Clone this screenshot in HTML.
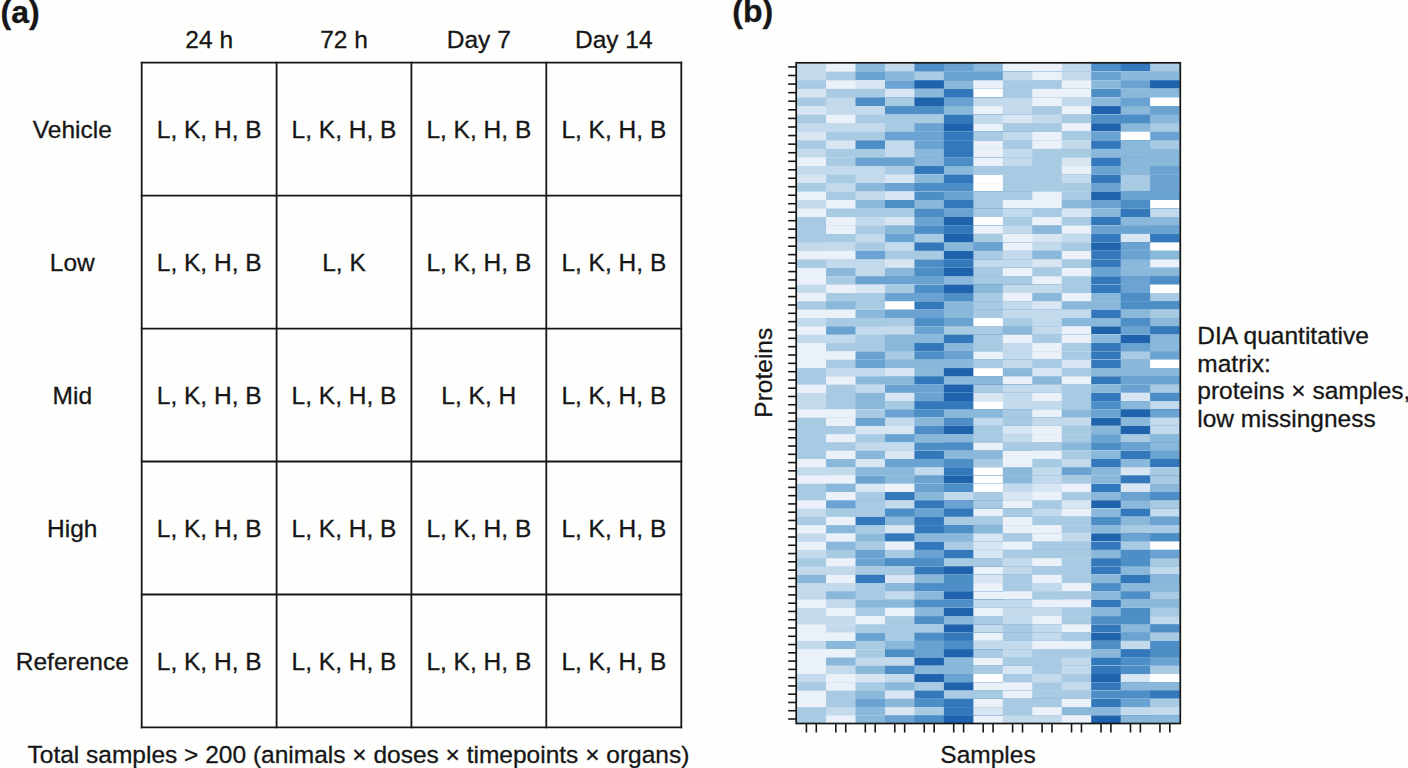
<!DOCTYPE html>
<html><head><meta charset="utf-8"><title>Figure</title>
<style>
html,body{margin:0;padding:0;background:#fefefd;}
body{width:1408px;height:768px;overflow:hidden;}
svg{display:block;}
text{font-family:"Liberation Sans",sans-serif;fill:#161616;stroke:#161616;stroke-width:0.3px;}
.t{font-size:24.5px;}
.b{font-size:32px;font-weight:bold;}
</style></head><body>
<svg width="1408" height="768" viewBox="0 0 1408 768">
<rect x="0" y="0" width="1408" height="768" fill="#fefefd"/>
<text class="b" x="0.5" y="22.8">(a)</text>
<g stroke="#161616" stroke-width="1.8" fill="none" stroke-linecap="square">
<line x1="141.7" y1="62.7" x2="141.7" y2="727.3"/>
<line x1="276.6" y1="62.7" x2="276.6" y2="727.3"/>
<line x1="411.4" y1="62.7" x2="411.4" y2="727.3"/>
<line x1="546.3" y1="62.7" x2="546.3" y2="727.3"/>
<line x1="681.3" y1="62.7" x2="681.3" y2="727.3"/>
<line x1="141.7" y1="62.7" x2="681.3" y2="62.7"/>
<line x1="141.7" y1="195.6" x2="681.3" y2="195.6"/>
<line x1="141.7" y1="328.6" x2="681.3" y2="328.6"/>
<line x1="141.7" y1="461.5" x2="681.3" y2="461.5"/>
<line x1="141.7" y1="594.5" x2="681.3" y2="594.5"/>
<line x1="141.7" y1="727.3" x2="681.3" y2="727.3"/>
</g>
<text class="t" text-anchor="middle" x="209.2" y="47.5">24 h</text>
<text class="t" text-anchor="middle" x="344.0" y="47.5">72 h</text>
<text class="t" text-anchor="middle" x="478.8" y="47.5">Day 7</text>
<text class="t" text-anchor="middle" x="613.8" y="47.5">Day 14</text>
<text class="t" text-anchor="middle" x="72.3" y="138.1">Vehicle</text>
<text class="t" text-anchor="middle" x="209.2" y="138.1">L, K, H, B</text>
<text class="t" text-anchor="middle" x="344.0" y="138.1">L, K, H, B</text>
<text class="t" text-anchor="middle" x="478.8" y="138.1">L, K, H, B</text>
<text class="t" text-anchor="middle" x="613.8" y="138.1">L, K, H, B</text>
<text class="t" text-anchor="middle" x="72.3" y="271.0">Low</text>
<text class="t" text-anchor="middle" x="209.2" y="271.0">L, K, H, B</text>
<text class="t" text-anchor="middle" x="344.0" y="271.0">L, K</text>
<text class="t" text-anchor="middle" x="478.8" y="271.0">L, K, H, B</text>
<text class="t" text-anchor="middle" x="613.8" y="271.0">L, K, H, B</text>
<text class="t" text-anchor="middle" x="72.3" y="403.9">Mid</text>
<text class="t" text-anchor="middle" x="209.2" y="403.9">L, K, H, B</text>
<text class="t" text-anchor="middle" x="344.0" y="403.9">L, K, H, B</text>
<text class="t" text-anchor="middle" x="478.8" y="403.9">L, K, H</text>
<text class="t" text-anchor="middle" x="613.8" y="403.9">L, K, H, B</text>
<text class="t" text-anchor="middle" x="72.3" y="536.9">High</text>
<text class="t" text-anchor="middle" x="209.2" y="536.9">L, K, H, B</text>
<text class="t" text-anchor="middle" x="344.0" y="536.9">L, K, H, B</text>
<text class="t" text-anchor="middle" x="478.8" y="536.9">L, K, H, B</text>
<text class="t" text-anchor="middle" x="613.8" y="536.9">L, K, H, B</text>
<text class="t" text-anchor="middle" x="72.3" y="669.8">Reference</text>
<text class="t" text-anchor="middle" x="209.2" y="669.8">L, K, H, B</text>
<text class="t" text-anchor="middle" x="344.0" y="669.8">L, K, H, B</text>
<text class="t" text-anchor="middle" x="478.8" y="669.8">L, K, H, B</text>
<text class="t" text-anchor="middle" x="613.8" y="669.8">L, K, H, B</text>
<text class="t" x="27.5" y="763">Total samples &gt; 200 (animals × doses × timepoints × organs)</text>
<text class="b" x="732.3" y="22.4">(b)</text>
<g>
<rect x="796.60" y="62.80" width="383.00" height="660.70" fill="#c3d9ec"/><rect x="826.06" y="62.80" width="353.54" height="660.70" fill="#ebf1f9"/><rect x="855.52" y="62.80" width="324.08" height="660.70" fill="#8ab8da"/><rect x="884.98" y="62.80" width="294.62" height="660.70" fill="#c3d9ec"/><rect x="914.45" y="62.80" width="265.15" height="660.70" fill="#4e8ec7"/><rect x="943.91" y="62.80" width="235.69" height="660.70" fill="#6aa2d1"/><rect x="973.37" y="62.80" width="206.23" height="660.70" fill="#8ab8da"/><rect x="1002.83" y="62.80" width="176.77" height="660.70" fill="#ebf1f9"/><rect x="1032.29" y="62.80" width="147.31" height="660.70" fill="#ebf1f9"/><rect x="1061.75" y="62.80" width="117.85" height="660.70" fill="#c3d9ec"/><rect x="1091.22" y="62.80" width="88.38" height="660.70" fill="#4e8ec7"/><rect x="1120.68" y="62.80" width="58.92" height="660.70" fill="#3378bb"/><rect x="1150.14" y="62.80" width="29.46" height="660.70" fill="#a8cae3"/>
<rect x="796.60" y="71.74" width="383.00" height="651.76" fill="#c3d9ec"/><rect x="826.06" y="71.74" width="353.54" height="651.76" fill="#a8cae3"/><rect x="855.52" y="71.74" width="324.08" height="651.76" fill="#6aa2d1"/><rect x="884.98" y="71.74" width="294.62" height="651.76" fill="#8ab8da"/><rect x="914.45" y="71.74" width="265.15" height="651.76" fill="#a8cae3"/><rect x="943.91" y="71.74" width="235.69" height="651.76" fill="#6aa2d1"/><rect x="973.37" y="71.74" width="206.23" height="651.76" fill="#6aa2d1"/><rect x="1002.83" y="71.74" width="176.77" height="651.76" fill="#c3d9ec"/><rect x="1032.29" y="71.74" width="147.31" height="651.76" fill="#ebf1f9"/><rect x="1061.75" y="71.74" width="117.85" height="651.76" fill="#c3d9ec"/><rect x="1091.22" y="71.74" width="88.38" height="651.76" fill="#6aa2d1"/><rect x="1120.68" y="71.74" width="58.92" height="651.76" fill="#8ab8da"/><rect x="1150.14" y="71.74" width="29.46" height="651.76" fill="#8ab8da"/>
<rect x="796.60" y="80.32" width="383.00" height="643.18" fill="#a8cae3"/><rect x="826.06" y="80.32" width="353.54" height="643.18" fill="#ebf1f9"/><rect x="855.52" y="80.32" width="324.08" height="643.18" fill="#d8e5f2"/><rect x="884.98" y="80.32" width="294.62" height="643.18" fill="#6aa2d1"/><rect x="914.45" y="80.32" width="265.15" height="643.18" fill="#2063ad"/><rect x="943.91" y="80.32" width="235.69" height="643.18" fill="#8ab8da"/><rect x="973.37" y="80.32" width="206.23" height="643.18" fill="#ebf1f9"/><rect x="1002.83" y="80.32" width="176.77" height="643.18" fill="#a8cae3"/><rect x="1032.29" y="80.32" width="147.31" height="643.18" fill="#a8cae3"/><rect x="1061.75" y="80.32" width="117.85" height="643.18" fill="#ebf1f9"/><rect x="1091.22" y="80.32" width="88.38" height="643.18" fill="#8ab8da"/><rect x="1120.68" y="80.32" width="58.92" height="643.18" fill="#6aa2d1"/><rect x="1150.14" y="80.32" width="29.46" height="643.18" fill="#2063ad"/>
<rect x="796.60" y="88.90" width="383.00" height="634.60" fill="#d8e5f2"/><rect x="826.06" y="88.90" width="353.54" height="634.60" fill="#a8cae3"/><rect x="855.52" y="88.90" width="324.08" height="634.60" fill="#a8cae3"/><rect x="884.98" y="88.90" width="294.62" height="634.60" fill="#d8e5f2"/><rect x="914.45" y="88.90" width="265.15" height="634.60" fill="#8ab8da"/><rect x="943.91" y="88.90" width="235.69" height="634.60" fill="#3378bb"/><rect x="973.37" y="88.90" width="206.23" height="634.60" fill="#ffffff"/><rect x="1002.83" y="88.90" width="176.77" height="634.60" fill="#a8cae3"/><rect x="1032.29" y="88.90" width="147.31" height="634.60" fill="#ebf1f9"/><rect x="1061.75" y="88.90" width="117.85" height="634.60" fill="#ebf1f9"/><rect x="1091.22" y="88.90" width="88.38" height="634.60" fill="#4e8ec7"/><rect x="1120.68" y="88.90" width="58.92" height="634.60" fill="#8ab8da"/><rect x="1150.14" y="88.90" width="29.46" height="634.60" fill="#8ab8da"/>
<rect x="796.60" y="97.49" width="383.00" height="626.01" fill="#a8cae3"/><rect x="826.06" y="97.49" width="353.54" height="626.01" fill="#c3d9ec"/><rect x="855.52" y="97.49" width="324.08" height="626.01" fill="#4e8ec7"/><rect x="884.98" y="97.49" width="294.62" height="626.01" fill="#a8cae3"/><rect x="914.45" y="97.49" width="265.15" height="626.01" fill="#2063ad"/><rect x="943.91" y="97.49" width="235.69" height="626.01" fill="#6aa2d1"/><rect x="973.37" y="97.49" width="206.23" height="626.01" fill="#c3d9ec"/><rect x="1002.83" y="97.49" width="176.77" height="626.01" fill="#c3d9ec"/><rect x="1032.29" y="97.49" width="147.31" height="626.01" fill="#ebf1f9"/><rect x="1061.75" y="97.49" width="117.85" height="626.01" fill="#c3d9ec"/><rect x="1091.22" y="97.49" width="88.38" height="626.01" fill="#8ab8da"/><rect x="1120.68" y="97.49" width="58.92" height="626.01" fill="#6aa2d1"/><rect x="1150.14" y="97.49" width="29.46" height="626.01" fill="#ffffff"/>
<rect x="796.60" y="106.07" width="383.00" height="617.43" fill="#d8e5f2"/><rect x="826.06" y="106.07" width="353.54" height="617.43" fill="#c3d9ec"/><rect x="855.52" y="106.07" width="324.08" height="617.43" fill="#c3d9ec"/><rect x="884.98" y="106.07" width="294.62" height="617.43" fill="#4e8ec7"/><rect x="914.45" y="106.07" width="265.15" height="617.43" fill="#4e8ec7"/><rect x="943.91" y="106.07" width="235.69" height="617.43" fill="#8ab8da"/><rect x="973.37" y="106.07" width="206.23" height="617.43" fill="#ebf1f9"/><rect x="1002.83" y="106.07" width="176.77" height="617.43" fill="#c3d9ec"/><rect x="1032.29" y="106.07" width="147.31" height="617.43" fill="#a8cae3"/><rect x="1061.75" y="106.07" width="117.85" height="617.43" fill="#ebf1f9"/><rect x="1091.22" y="106.07" width="88.38" height="617.43" fill="#2063ad"/><rect x="1120.68" y="106.07" width="58.92" height="617.43" fill="#8ab8da"/><rect x="1150.14" y="106.07" width="29.46" height="617.43" fill="#6aa2d1"/>
<rect x="796.60" y="114.65" width="383.00" height="608.85" fill="#a8cae3"/><rect x="826.06" y="114.65" width="353.54" height="608.85" fill="#ebf1f9"/><rect x="855.52" y="114.65" width="324.08" height="608.85" fill="#a8cae3"/><rect x="884.98" y="114.65" width="294.62" height="608.85" fill="#a8cae3"/><rect x="914.45" y="114.65" width="265.15" height="608.85" fill="#a8cae3"/><rect x="943.91" y="114.65" width="235.69" height="608.85" fill="#3378bb"/><rect x="973.37" y="114.65" width="206.23" height="608.85" fill="#c3d9ec"/><rect x="1002.83" y="114.65" width="176.77" height="608.85" fill="#d8e5f2"/><rect x="1032.29" y="114.65" width="147.31" height="608.85" fill="#c3d9ec"/><rect x="1061.75" y="114.65" width="117.85" height="608.85" fill="#a8cae3"/><rect x="1091.22" y="114.65" width="88.38" height="608.85" fill="#4e8ec7"/><rect x="1120.68" y="114.65" width="58.92" height="608.85" fill="#4e8ec7"/><rect x="1150.14" y="114.65" width="29.46" height="608.85" fill="#8ab8da"/>
<rect x="796.60" y="123.23" width="383.00" height="600.27" fill="#c3d9ec"/><rect x="826.06" y="123.23" width="353.54" height="600.27" fill="#c3d9ec"/><rect x="855.52" y="123.23" width="324.08" height="600.27" fill="#c3d9ec"/><rect x="884.98" y="123.23" width="294.62" height="600.27" fill="#a8cae3"/><rect x="914.45" y="123.23" width="265.15" height="600.27" fill="#6aa2d1"/><rect x="943.91" y="123.23" width="235.69" height="600.27" fill="#2063ad"/><rect x="973.37" y="123.23" width="206.23" height="600.27" fill="#ebf1f9"/><rect x="1002.83" y="123.23" width="176.77" height="600.27" fill="#a8cae3"/><rect x="1032.29" y="123.23" width="147.31" height="600.27" fill="#a8cae3"/><rect x="1061.75" y="123.23" width="117.85" height="600.27" fill="#ebf1f9"/><rect x="1091.22" y="123.23" width="88.38" height="600.27" fill="#2063ad"/><rect x="1120.68" y="123.23" width="58.92" height="600.27" fill="#8ab8da"/><rect x="1150.14" y="123.23" width="29.46" height="600.27" fill="#a8cae3"/>
<rect x="796.60" y="131.81" width="383.00" height="591.69" fill="#d8e5f2"/><rect x="826.06" y="131.81" width="353.54" height="591.69" fill="#a8cae3"/><rect x="855.52" y="131.81" width="324.08" height="591.69" fill="#a8cae3"/><rect x="884.98" y="131.81" width="294.62" height="591.69" fill="#6aa2d1"/><rect x="914.45" y="131.81" width="265.15" height="591.69" fill="#6aa2d1"/><rect x="943.91" y="131.81" width="235.69" height="591.69" fill="#3378bb"/><rect x="973.37" y="131.81" width="206.23" height="591.69" fill="#a8cae3"/><rect x="1002.83" y="131.81" width="176.77" height="591.69" fill="#c3d9ec"/><rect x="1032.29" y="131.81" width="147.31" height="591.69" fill="#ebf1f9"/><rect x="1061.75" y="131.81" width="117.85" height="591.69" fill="#a8cae3"/><rect x="1091.22" y="131.81" width="88.38" height="591.69" fill="#6aa2d1"/><rect x="1120.68" y="131.81" width="58.92" height="591.69" fill="#ffffff"/><rect x="1150.14" y="131.81" width="29.46" height="591.69" fill="#6aa2d1"/>
<rect x="796.60" y="140.40" width="383.00" height="583.10" fill="#a8cae3"/><rect x="826.06" y="140.40" width="353.54" height="583.10" fill="#d8e5f2"/><rect x="855.52" y="140.40" width="324.08" height="583.10" fill="#4e8ec7"/><rect x="884.98" y="140.40" width="294.62" height="583.10" fill="#c3d9ec"/><rect x="914.45" y="140.40" width="265.15" height="583.10" fill="#6aa2d1"/><rect x="943.91" y="140.40" width="235.69" height="583.10" fill="#3378bb"/><rect x="973.37" y="140.40" width="206.23" height="583.10" fill="#ebf1f9"/><rect x="1002.83" y="140.40" width="176.77" height="583.10" fill="#a8cae3"/><rect x="1032.29" y="140.40" width="147.31" height="583.10" fill="#ebf1f9"/><rect x="1061.75" y="140.40" width="117.85" height="583.10" fill="#c3d9ec"/><rect x="1091.22" y="140.40" width="88.38" height="583.10" fill="#3378bb"/><rect x="1120.68" y="140.40" width="58.92" height="583.10" fill="#8ab8da"/><rect x="1150.14" y="140.40" width="29.46" height="583.10" fill="#a8cae3"/>
<rect x="796.60" y="148.98" width="383.00" height="574.52" fill="#c3d9ec"/><rect x="826.06" y="148.98" width="353.54" height="574.52" fill="#a8cae3"/><rect x="855.52" y="148.98" width="324.08" height="574.52" fill="#a8cae3"/><rect x="884.98" y="148.98" width="294.62" height="574.52" fill="#c3d9ec"/><rect x="914.45" y="148.98" width="265.15" height="574.52" fill="#8ab8da"/><rect x="943.91" y="148.98" width="235.69" height="574.52" fill="#3378bb"/><rect x="973.37" y="148.98" width="206.23" height="574.52" fill="#ebf1f9"/><rect x="1002.83" y="148.98" width="176.77" height="574.52" fill="#c3d9ec"/><rect x="1032.29" y="148.98" width="147.31" height="574.52" fill="#a8cae3"/><rect x="1061.75" y="148.98" width="117.85" height="574.52" fill="#a8cae3"/><rect x="1091.22" y="148.98" width="88.38" height="574.52" fill="#8ab8da"/><rect x="1120.68" y="148.98" width="58.92" height="574.52" fill="#8ab8da"/><rect x="1150.14" y="148.98" width="29.46" height="574.52" fill="#8ab8da"/>
<rect x="796.60" y="157.56" width="383.00" height="565.94" fill="#ebf1f9"/><rect x="826.06" y="157.56" width="353.54" height="565.94" fill="#a8cae3"/><rect x="855.52" y="157.56" width="324.08" height="565.94" fill="#6aa2d1"/><rect x="884.98" y="157.56" width="294.62" height="565.94" fill="#6aa2d1"/><rect x="914.45" y="157.56" width="265.15" height="565.94" fill="#8ab8da"/><rect x="943.91" y="157.56" width="235.69" height="565.94" fill="#4e8ec7"/><rect x="973.37" y="157.56" width="206.23" height="565.94" fill="#ebf1f9"/><rect x="1002.83" y="157.56" width="176.77" height="565.94" fill="#c3d9ec"/><rect x="1032.29" y="157.56" width="147.31" height="565.94" fill="#a8cae3"/><rect x="1061.75" y="157.56" width="117.85" height="565.94" fill="#d8e5f2"/><rect x="1091.22" y="157.56" width="88.38" height="565.94" fill="#3378bb"/><rect x="1120.68" y="157.56" width="58.92" height="565.94" fill="#8ab8da"/><rect x="1150.14" y="157.56" width="29.46" height="565.94" fill="#8ab8da"/>
<rect x="796.60" y="166.09" width="383.00" height="557.41" fill="#c3d9ec"/><rect x="826.06" y="166.09" width="353.54" height="557.41" fill="#c3d9ec"/><rect x="855.52" y="166.09" width="324.08" height="557.41" fill="#c3d9ec"/><rect x="884.98" y="166.09" width="294.62" height="557.41" fill="#a8cae3"/><rect x="914.45" y="166.09" width="265.15" height="557.41" fill="#3378bb"/><rect x="943.91" y="166.09" width="235.69" height="557.41" fill="#8ab8da"/><rect x="973.37" y="166.09" width="206.23" height="557.41" fill="#a8cae3"/><rect x="1002.83" y="166.09" width="176.77" height="557.41" fill="#a8cae3"/><rect x="1032.29" y="166.09" width="147.31" height="557.41" fill="#a8cae3"/><rect x="1061.75" y="166.09" width="117.85" height="557.41" fill="#ebf1f9"/><rect x="1091.22" y="166.09" width="88.38" height="557.41" fill="#6aa2d1"/><rect x="1120.68" y="166.09" width="58.92" height="557.41" fill="#8ab8da"/><rect x="1150.14" y="166.09" width="29.46" height="557.41" fill="#6aa2d1"/>
<rect x="796.60" y="174.58" width="383.00" height="548.92" fill="#d8e5f2"/><rect x="826.06" y="174.58" width="353.54" height="548.92" fill="#a8cae3"/><rect x="855.52" y="174.58" width="324.08" height="548.92" fill="#c3d9ec"/><rect x="884.98" y="174.58" width="294.62" height="548.92" fill="#d8e5f2"/><rect x="914.45" y="174.58" width="265.15" height="548.92" fill="#8ab8da"/><rect x="943.91" y="174.58" width="235.69" height="548.92" fill="#3378bb"/><rect x="973.37" y="174.58" width="206.23" height="548.92" fill="#ffffff"/><rect x="1002.83" y="174.58" width="176.77" height="548.92" fill="#a8cae3"/><rect x="1032.29" y="174.58" width="147.31" height="548.92" fill="#a8cae3"/><rect x="1061.75" y="174.58" width="117.85" height="548.92" fill="#c3d9ec"/><rect x="1091.22" y="174.58" width="88.38" height="548.92" fill="#3378bb"/><rect x="1120.68" y="174.58" width="58.92" height="548.92" fill="#a8cae3"/><rect x="1150.14" y="174.58" width="29.46" height="548.92" fill="#6aa2d1"/>
<rect x="796.60" y="183.06" width="383.00" height="540.44" fill="#a8cae3"/><rect x="826.06" y="183.06" width="353.54" height="540.44" fill="#c3d9ec"/><rect x="855.52" y="183.06" width="324.08" height="540.44" fill="#8ab8da"/><rect x="884.98" y="183.06" width="294.62" height="540.44" fill="#6aa2d1"/><rect x="914.45" y="183.06" width="265.15" height="540.44" fill="#4e8ec7"/><rect x="943.91" y="183.06" width="235.69" height="540.44" fill="#4e8ec7"/><rect x="973.37" y="183.06" width="206.23" height="540.44" fill="#ffffff"/><rect x="1002.83" y="183.06" width="176.77" height="540.44" fill="#a8cae3"/><rect x="1032.29" y="183.06" width="147.31" height="540.44" fill="#a8cae3"/><rect x="1061.75" y="183.06" width="117.85" height="540.44" fill="#a8cae3"/><rect x="1091.22" y="183.06" width="88.38" height="540.44" fill="#6aa2d1"/><rect x="1120.68" y="183.06" width="58.92" height="540.44" fill="#a8cae3"/><rect x="1150.14" y="183.06" width="29.46" height="540.44" fill="#6aa2d1"/>
<rect x="796.60" y="191.55" width="383.00" height="531.95" fill="#ebf1f9"/><rect x="826.06" y="191.55" width="353.54" height="531.95" fill="#a8cae3"/><rect x="855.52" y="191.55" width="324.08" height="531.95" fill="#c3d9ec"/><rect x="884.98" y="191.55" width="294.62" height="531.95" fill="#d8e5f2"/><rect x="914.45" y="191.55" width="265.15" height="531.95" fill="#4e8ec7"/><rect x="943.91" y="191.55" width="235.69" height="531.95" fill="#6aa2d1"/><rect x="973.37" y="191.55" width="206.23" height="531.95" fill="#a8cae3"/><rect x="1002.83" y="191.55" width="176.77" height="531.95" fill="#a8cae3"/><rect x="1032.29" y="191.55" width="147.31" height="531.95" fill="#ebf1f9"/><rect x="1061.75" y="191.55" width="117.85" height="531.95" fill="#a8cae3"/><rect x="1091.22" y="191.55" width="88.38" height="531.95" fill="#2063ad"/><rect x="1120.68" y="191.55" width="58.92" height="531.95" fill="#6aa2d1"/><rect x="1150.14" y="191.55" width="29.46" height="531.95" fill="#6aa2d1"/>
<rect x="796.60" y="200.03" width="383.00" height="523.47" fill="#c3d9ec"/><rect x="826.06" y="200.03" width="353.54" height="523.47" fill="#ebf1f9"/><rect x="855.52" y="200.03" width="324.08" height="523.47" fill="#8ab8da"/><rect x="884.98" y="200.03" width="294.62" height="523.47" fill="#4e8ec7"/><rect x="914.45" y="200.03" width="265.15" height="523.47" fill="#8ab8da"/><rect x="943.91" y="200.03" width="235.69" height="523.47" fill="#3378bb"/><rect x="973.37" y="200.03" width="206.23" height="523.47" fill="#a8cae3"/><rect x="1002.83" y="200.03" width="176.77" height="523.47" fill="#ebf1f9"/><rect x="1032.29" y="200.03" width="147.31" height="523.47" fill="#ebf1f9"/><rect x="1061.75" y="200.03" width="117.85" height="523.47" fill="#8ab8da"/><rect x="1091.22" y="200.03" width="88.38" height="523.47" fill="#6aa2d1"/><rect x="1120.68" y="200.03" width="58.92" height="523.47" fill="#4e8ec7"/><rect x="1150.14" y="200.03" width="29.46" height="523.47" fill="#ffffff"/>
<rect x="796.60" y="208.52" width="383.00" height="514.98" fill="#ebf1f9"/><rect x="826.06" y="208.52" width="353.54" height="514.98" fill="#a8cae3"/><rect x="855.52" y="208.52" width="324.08" height="514.98" fill="#a8cae3"/><rect x="884.98" y="208.52" width="294.62" height="514.98" fill="#a8cae3"/><rect x="914.45" y="208.52" width="265.15" height="514.98" fill="#4e8ec7"/><rect x="943.91" y="208.52" width="235.69" height="514.98" fill="#6aa2d1"/><rect x="973.37" y="208.52" width="206.23" height="514.98" fill="#a8cae3"/><rect x="1002.83" y="208.52" width="176.77" height="514.98" fill="#c3d9ec"/><rect x="1032.29" y="208.52" width="147.31" height="514.98" fill="#a8cae3"/><rect x="1061.75" y="208.52" width="117.85" height="514.98" fill="#d8e5f2"/><rect x="1091.22" y="208.52" width="88.38" height="514.98" fill="#8ab8da"/><rect x="1120.68" y="208.52" width="58.92" height="514.98" fill="#3378bb"/><rect x="1150.14" y="208.52" width="29.46" height="514.98" fill="#c3d9ec"/>
<rect x="796.60" y="217.00" width="383.00" height="506.50" fill="#a8cae3"/><rect x="826.06" y="217.00" width="353.54" height="506.50" fill="#ebf1f9"/><rect x="855.52" y="217.00" width="324.08" height="506.50" fill="#c3d9ec"/><rect x="884.98" y="217.00" width="294.62" height="506.50" fill="#d8e5f2"/><rect x="914.45" y="217.00" width="265.15" height="506.50" fill="#6aa2d1"/><rect x="943.91" y="217.00" width="235.69" height="506.50" fill="#2063ad"/><rect x="973.37" y="217.00" width="206.23" height="506.50" fill="#ffffff"/><rect x="1002.83" y="217.00" width="176.77" height="506.50" fill="#a8cae3"/><rect x="1032.29" y="217.00" width="147.31" height="506.50" fill="#ebf1f9"/><rect x="1061.75" y="217.00" width="117.85" height="506.50" fill="#a8cae3"/><rect x="1091.22" y="217.00" width="88.38" height="506.50" fill="#3378bb"/><rect x="1120.68" y="217.00" width="58.92" height="506.50" fill="#8ab8da"/><rect x="1150.14" y="217.00" width="29.46" height="506.50" fill="#8ab8da"/>
<rect x="796.60" y="225.48" width="383.00" height="498.02" fill="#a8cae3"/><rect x="826.06" y="225.48" width="353.54" height="498.02" fill="#ebf1f9"/><rect x="855.52" y="225.48" width="324.08" height="498.02" fill="#a8cae3"/><rect x="884.98" y="225.48" width="294.62" height="498.02" fill="#8ab8da"/><rect x="914.45" y="225.48" width="265.15" height="498.02" fill="#4e8ec7"/><rect x="943.91" y="225.48" width="235.69" height="498.02" fill="#3378bb"/><rect x="973.37" y="225.48" width="206.23" height="498.02" fill="#ebf1f9"/><rect x="1002.83" y="225.48" width="176.77" height="498.02" fill="#c3d9ec"/><rect x="1032.29" y="225.48" width="147.31" height="498.02" fill="#8ab8da"/><rect x="1061.75" y="225.48" width="117.85" height="498.02" fill="#ebf1f9"/><rect x="1091.22" y="225.48" width="88.38" height="498.02" fill="#6aa2d1"/><rect x="1120.68" y="225.48" width="58.92" height="498.02" fill="#6aa2d1"/><rect x="1150.14" y="225.48" width="29.46" height="498.02" fill="#6aa2d1"/>
<rect x="796.60" y="233.97" width="383.00" height="489.53" fill="#a8cae3"/><rect x="826.06" y="233.97" width="353.54" height="489.53" fill="#a8cae3"/><rect x="855.52" y="233.97" width="324.08" height="489.53" fill="#c3d9ec"/><rect x="884.98" y="233.97" width="294.62" height="489.53" fill="#6aa2d1"/><rect x="914.45" y="233.97" width="265.15" height="489.53" fill="#a8cae3"/><rect x="943.91" y="233.97" width="235.69" height="489.53" fill="#2063ad"/><rect x="973.37" y="233.97" width="206.23" height="489.53" fill="#a8cae3"/><rect x="1002.83" y="233.97" width="176.77" height="489.53" fill="#ebf1f9"/><rect x="1032.29" y="233.97" width="147.31" height="489.53" fill="#d8e5f2"/><rect x="1061.75" y="233.97" width="117.85" height="489.53" fill="#c3d9ec"/><rect x="1091.22" y="233.97" width="88.38" height="489.53" fill="#3378bb"/><rect x="1120.68" y="233.97" width="58.92" height="489.53" fill="#d8e5f2"/><rect x="1150.14" y="233.97" width="29.46" height="489.53" fill="#3378bb"/>
<rect x="796.60" y="242.45" width="383.00" height="481.05" fill="#c3d9ec"/><rect x="826.06" y="242.45" width="353.54" height="481.05" fill="#c3d9ec"/><rect x="855.52" y="242.45" width="324.08" height="481.05" fill="#a8cae3"/><rect x="884.98" y="242.45" width="294.62" height="481.05" fill="#c3d9ec"/><rect x="914.45" y="242.45" width="265.15" height="481.05" fill="#3378bb"/><rect x="943.91" y="242.45" width="235.69" height="481.05" fill="#8ab8da"/><rect x="973.37" y="242.45" width="206.23" height="481.05" fill="#6aa2d1"/><rect x="1002.83" y="242.45" width="176.77" height="481.05" fill="#ebf1f9"/><rect x="1032.29" y="242.45" width="147.31" height="481.05" fill="#c3d9ec"/><rect x="1061.75" y="242.45" width="117.85" height="481.05" fill="#a8cae3"/><rect x="1091.22" y="242.45" width="88.38" height="481.05" fill="#2063ad"/><rect x="1120.68" y="242.45" width="58.92" height="481.05" fill="#6aa2d1"/><rect x="1150.14" y="242.45" width="29.46" height="481.05" fill="#ffffff"/>
<rect x="796.60" y="250.94" width="383.00" height="472.56" fill="#ebf1f9"/><rect x="826.06" y="250.94" width="353.54" height="472.56" fill="#ebf1f9"/><rect x="855.52" y="250.94" width="324.08" height="472.56" fill="#6aa2d1"/><rect x="884.98" y="250.94" width="294.62" height="472.56" fill="#a8cae3"/><rect x="914.45" y="250.94" width="265.15" height="472.56" fill="#a8cae3"/><rect x="943.91" y="250.94" width="235.69" height="472.56" fill="#2063ad"/><rect x="973.37" y="250.94" width="206.23" height="472.56" fill="#a8cae3"/><rect x="1002.83" y="250.94" width="176.77" height="472.56" fill="#c3d9ec"/><rect x="1032.29" y="250.94" width="147.31" height="472.56" fill="#8ab8da"/><rect x="1061.75" y="250.94" width="117.85" height="472.56" fill="#ebf1f9"/><rect x="1091.22" y="250.94" width="88.38" height="472.56" fill="#3378bb"/><rect x="1120.68" y="250.94" width="58.92" height="472.56" fill="#6aa2d1"/><rect x="1150.14" y="250.94" width="29.46" height="472.56" fill="#8ab8da"/>
<rect x="796.60" y="259.42" width="383.00" height="464.08" fill="#a8cae3"/><rect x="826.06" y="259.42" width="353.54" height="464.08" fill="#c3d9ec"/><rect x="855.52" y="259.42" width="324.08" height="464.08" fill="#c3d9ec"/><rect x="884.98" y="259.42" width="294.62" height="464.08" fill="#d8e5f2"/><rect x="914.45" y="259.42" width="265.15" height="464.08" fill="#4e8ec7"/><rect x="943.91" y="259.42" width="235.69" height="464.08" fill="#3378bb"/><rect x="973.37" y="259.42" width="206.23" height="464.08" fill="#c3d9ec"/><rect x="1002.83" y="259.42" width="176.77" height="464.08" fill="#c3d9ec"/><rect x="1032.29" y="259.42" width="147.31" height="464.08" fill="#d8e5f2"/><rect x="1061.75" y="259.42" width="117.85" height="464.08" fill="#a8cae3"/><rect x="1091.22" y="259.42" width="88.38" height="464.08" fill="#3378bb"/><rect x="1120.68" y="259.42" width="58.92" height="464.08" fill="#8ab8da"/><rect x="1150.14" y="259.42" width="29.46" height="464.08" fill="#ebf1f9"/>
<rect x="796.60" y="267.91" width="383.00" height="455.59" fill="#ebf1f9"/><rect x="826.06" y="267.91" width="353.54" height="455.59" fill="#8ab8da"/><rect x="855.52" y="267.91" width="324.08" height="455.59" fill="#c3d9ec"/><rect x="884.98" y="267.91" width="294.62" height="455.59" fill="#8ab8da"/><rect x="914.45" y="267.91" width="265.15" height="455.59" fill="#4e8ec7"/><rect x="943.91" y="267.91" width="235.69" height="455.59" fill="#2063ad"/><rect x="973.37" y="267.91" width="206.23" height="455.59" fill="#a8cae3"/><rect x="1002.83" y="267.91" width="176.77" height="455.59" fill="#ebf1f9"/><rect x="1032.29" y="267.91" width="147.31" height="455.59" fill="#a8cae3"/><rect x="1061.75" y="267.91" width="117.85" height="455.59" fill="#ebf1f9"/><rect x="1091.22" y="267.91" width="88.38" height="455.59" fill="#6aa2d1"/><rect x="1120.68" y="267.91" width="58.92" height="455.59" fill="#8ab8da"/><rect x="1150.14" y="267.91" width="29.46" height="455.59" fill="#8ab8da"/>
<rect x="796.60" y="276.32" width="383.00" height="447.18" fill="#ebf1f9"/><rect x="826.06" y="276.32" width="353.54" height="447.18" fill="#a8cae3"/><rect x="855.52" y="276.32" width="324.08" height="447.18" fill="#6aa2d1"/><rect x="884.98" y="276.32" width="294.62" height="447.18" fill="#6aa2d1"/><rect x="914.45" y="276.32" width="265.15" height="447.18" fill="#6aa2d1"/><rect x="943.91" y="276.32" width="235.69" height="447.18" fill="#8ab8da"/><rect x="973.37" y="276.32" width="206.23" height="447.18" fill="#a8cae3"/><rect x="1002.83" y="276.32" width="176.77" height="447.18" fill="#a8cae3"/><rect x="1032.29" y="276.32" width="147.31" height="447.18" fill="#ebf1f9"/><rect x="1061.75" y="276.32" width="117.85" height="447.18" fill="#a8cae3"/><rect x="1091.22" y="276.32" width="88.38" height="447.18" fill="#3378bb"/><rect x="1120.68" y="276.32" width="58.92" height="447.18" fill="#6aa2d1"/><rect x="1150.14" y="276.32" width="29.46" height="447.18" fill="#4e8ec7"/>
<rect x="796.60" y="284.66" width="383.00" height="438.84" fill="#c3d9ec"/><rect x="826.06" y="284.66" width="353.54" height="438.84" fill="#ebf1f9"/><rect x="855.52" y="284.66" width="324.08" height="438.84" fill="#d8e5f2"/><rect x="884.98" y="284.66" width="294.62" height="438.84" fill="#a8cae3"/><rect x="914.45" y="284.66" width="265.15" height="438.84" fill="#4e8ec7"/><rect x="943.91" y="284.66" width="235.69" height="438.84" fill="#2063ad"/><rect x="973.37" y="284.66" width="206.23" height="438.84" fill="#8ab8da"/><rect x="1002.83" y="284.66" width="176.77" height="438.84" fill="#c3d9ec"/><rect x="1032.29" y="284.66" width="147.31" height="438.84" fill="#c3d9ec"/><rect x="1061.75" y="284.66" width="117.85" height="438.84" fill="#a8cae3"/><rect x="1091.22" y="284.66" width="88.38" height="438.84" fill="#3378bb"/><rect x="1120.68" y="284.66" width="58.92" height="438.84" fill="#6aa2d1"/><rect x="1150.14" y="284.66" width="29.46" height="438.84" fill="#ffffff"/>
<rect x="796.60" y="293.00" width="383.00" height="430.50" fill="#ebf1f9"/><rect x="826.06" y="293.00" width="353.54" height="430.50" fill="#a8cae3"/><rect x="855.52" y="293.00" width="324.08" height="430.50" fill="#a8cae3"/><rect x="884.98" y="293.00" width="294.62" height="430.50" fill="#6aa2d1"/><rect x="914.45" y="293.00" width="265.15" height="430.50" fill="#6aa2d1"/><rect x="943.91" y="293.00" width="235.69" height="430.50" fill="#4e8ec7"/><rect x="973.37" y="293.00" width="206.23" height="430.50" fill="#a8cae3"/><rect x="1002.83" y="293.00" width="176.77" height="430.50" fill="#ebf1f9"/><rect x="1032.29" y="293.00" width="147.31" height="430.50" fill="#8ab8da"/><rect x="1061.75" y="293.00" width="117.85" height="430.50" fill="#ebf1f9"/><rect x="1091.22" y="293.00" width="88.38" height="430.50" fill="#8ab8da"/><rect x="1120.68" y="293.00" width="58.92" height="430.50" fill="#4e8ec7"/><rect x="1150.14" y="293.00" width="29.46" height="430.50" fill="#a8cae3"/>
<rect x="796.60" y="301.35" width="383.00" height="422.15" fill="#a8cae3"/><rect x="826.06" y="301.35" width="353.54" height="422.15" fill="#8ab8da"/><rect x="855.52" y="301.35" width="324.08" height="422.15" fill="#a8cae3"/><rect x="884.98" y="301.35" width="294.62" height="422.15" fill="#ffffff"/><rect x="914.45" y="301.35" width="265.15" height="422.15" fill="#3378bb"/><rect x="943.91" y="301.35" width="235.69" height="422.15" fill="#8ab8da"/><rect x="973.37" y="301.35" width="206.23" height="422.15" fill="#a8cae3"/><rect x="1002.83" y="301.35" width="176.77" height="422.15" fill="#c3d9ec"/><rect x="1032.29" y="301.35" width="147.31" height="422.15" fill="#d8e5f2"/><rect x="1061.75" y="301.35" width="117.85" height="422.15" fill="#8ab8da"/><rect x="1091.22" y="301.35" width="88.38" height="422.15" fill="#8ab8da"/><rect x="1120.68" y="301.35" width="58.92" height="422.15" fill="#4e8ec7"/><rect x="1150.14" y="301.35" width="29.46" height="422.15" fill="#4e8ec7"/>
<rect x="796.60" y="309.69" width="383.00" height="413.81" fill="#ebf1f9"/><rect x="826.06" y="309.69" width="353.54" height="413.81" fill="#ebf1f9"/><rect x="855.52" y="309.69" width="324.08" height="413.81" fill="#8ab8da"/><rect x="884.98" y="309.69" width="294.62" height="413.81" fill="#6aa2d1"/><rect x="914.45" y="309.69" width="265.15" height="413.81" fill="#6aa2d1"/><rect x="943.91" y="309.69" width="235.69" height="413.81" fill="#8ab8da"/><rect x="973.37" y="309.69" width="206.23" height="413.81" fill="#a8cae3"/><rect x="1002.83" y="309.69" width="176.77" height="413.81" fill="#c3d9ec"/><rect x="1032.29" y="309.69" width="147.31" height="413.81" fill="#c3d9ec"/><rect x="1061.75" y="309.69" width="117.85" height="413.81" fill="#c3d9ec"/><rect x="1091.22" y="309.69" width="88.38" height="413.81" fill="#3378bb"/><rect x="1120.68" y="309.69" width="58.92" height="413.81" fill="#8ab8da"/><rect x="1150.14" y="309.69" width="29.46" height="413.81" fill="#a8cae3"/>
<rect x="796.60" y="318.03" width="383.00" height="405.47" fill="#c3d9ec"/><rect x="826.06" y="318.03" width="353.54" height="405.47" fill="#a8cae3"/><rect x="855.52" y="318.03" width="324.08" height="405.47" fill="#a8cae3"/><rect x="884.98" y="318.03" width="294.62" height="405.47" fill="#a8cae3"/><rect x="914.45" y="318.03" width="265.15" height="405.47" fill="#4e8ec7"/><rect x="943.91" y="318.03" width="235.69" height="405.47" fill="#6aa2d1"/><rect x="973.37" y="318.03" width="206.23" height="405.47" fill="#ffffff"/><rect x="1002.83" y="318.03" width="176.77" height="405.47" fill="#a8cae3"/><rect x="1032.29" y="318.03" width="147.31" height="405.47" fill="#c3d9ec"/><rect x="1061.75" y="318.03" width="117.85" height="405.47" fill="#8ab8da"/><rect x="1091.22" y="318.03" width="88.38" height="405.47" fill="#8ab8da"/><rect x="1120.68" y="318.03" width="58.92" height="405.47" fill="#4e8ec7"/><rect x="1150.14" y="318.03" width="29.46" height="405.47" fill="#8ab8da"/>
<rect x="796.60" y="326.37" width="383.00" height="397.13" fill="#ebf1f9"/><rect x="826.06" y="326.37" width="353.54" height="397.13" fill="#6aa2d1"/><rect x="855.52" y="326.37" width="324.08" height="397.13" fill="#c3d9ec"/><rect x="884.98" y="326.37" width="294.62" height="397.13" fill="#c3d9ec"/><rect x="914.45" y="326.37" width="265.15" height="397.13" fill="#6aa2d1"/><rect x="943.91" y="326.37" width="235.69" height="397.13" fill="#a8cae3"/><rect x="973.37" y="326.37" width="206.23" height="397.13" fill="#a8cae3"/><rect x="1002.83" y="326.37" width="176.77" height="397.13" fill="#8ab8da"/><rect x="1032.29" y="326.37" width="147.31" height="397.13" fill="#c3d9ec"/><rect x="1061.75" y="326.37" width="117.85" height="397.13" fill="#ebf1f9"/><rect x="1091.22" y="326.37" width="88.38" height="397.13" fill="#2063ad"/><rect x="1120.68" y="326.37" width="58.92" height="397.13" fill="#6aa2d1"/><rect x="1150.14" y="326.37" width="29.46" height="397.13" fill="#3378bb"/>
<rect x="796.60" y="334.71" width="383.00" height="388.79" fill="#c3d9ec"/><rect x="826.06" y="334.71" width="353.54" height="388.79" fill="#c3d9ec"/><rect x="855.52" y="334.71" width="324.08" height="388.79" fill="#a8cae3"/><rect x="884.98" y="334.71" width="294.62" height="388.79" fill="#8ab8da"/><rect x="914.45" y="334.71" width="265.15" height="388.79" fill="#8ab8da"/><rect x="943.91" y="334.71" width="235.69" height="388.79" fill="#3378bb"/><rect x="973.37" y="334.71" width="206.23" height="388.79" fill="#a8cae3"/><rect x="1002.83" y="334.71" width="176.77" height="388.79" fill="#ebf1f9"/><rect x="1032.29" y="334.71" width="147.31" height="388.79" fill="#a8cae3"/><rect x="1061.75" y="334.71" width="117.85" height="388.79" fill="#ebf1f9"/><rect x="1091.22" y="334.71" width="88.38" height="388.79" fill="#8ab8da"/><rect x="1120.68" y="334.71" width="58.92" height="388.79" fill="#2063ad"/><rect x="1150.14" y="334.71" width="29.46" height="388.79" fill="#8ab8da"/>
<rect x="796.60" y="343.05" width="383.00" height="380.45" fill="#ebf1f9"/><rect x="826.06" y="343.05" width="353.54" height="380.45" fill="#a8cae3"/><rect x="855.52" y="343.05" width="324.08" height="380.45" fill="#a8cae3"/><rect x="884.98" y="343.05" width="294.62" height="380.45" fill="#8ab8da"/><rect x="914.45" y="343.05" width="265.15" height="380.45" fill="#3378bb"/><rect x="943.91" y="343.05" width="235.69" height="380.45" fill="#8ab8da"/><rect x="973.37" y="343.05" width="206.23" height="380.45" fill="#a8cae3"/><rect x="1002.83" y="343.05" width="176.77" height="380.45" fill="#c3d9ec"/><rect x="1032.29" y="343.05" width="147.31" height="380.45" fill="#ebf1f9"/><rect x="1061.75" y="343.05" width="117.85" height="380.45" fill="#a8cae3"/><rect x="1091.22" y="343.05" width="88.38" height="380.45" fill="#3378bb"/><rect x="1120.68" y="343.05" width="58.92" height="380.45" fill="#6aa2d1"/><rect x="1150.14" y="343.05" width="29.46" height="380.45" fill="#8ab8da"/>
<rect x="796.60" y="351.40" width="383.00" height="372.10" fill="#ebf1f9"/><rect x="826.06" y="351.40" width="353.54" height="372.10" fill="#ebf1f9"/><rect x="855.52" y="351.40" width="324.08" height="372.10" fill="#6aa2d1"/><rect x="884.98" y="351.40" width="294.62" height="372.10" fill="#a8cae3"/><rect x="914.45" y="351.40" width="265.15" height="372.10" fill="#4e8ec7"/><rect x="943.91" y="351.40" width="235.69" height="372.10" fill="#6aa2d1"/><rect x="973.37" y="351.40" width="206.23" height="372.10" fill="#ebf1f9"/><rect x="1002.83" y="351.40" width="176.77" height="372.10" fill="#c3d9ec"/><rect x="1032.29" y="351.40" width="147.31" height="372.10" fill="#ebf1f9"/><rect x="1061.75" y="351.40" width="117.85" height="372.10" fill="#a8cae3"/><rect x="1091.22" y="351.40" width="88.38" height="372.10" fill="#3378bb"/><rect x="1120.68" y="351.40" width="58.92" height="372.10" fill="#a8cae3"/><rect x="1150.14" y="351.40" width="29.46" height="372.10" fill="#6aa2d1"/>
<rect x="796.60" y="359.74" width="383.00" height="363.76" fill="#ebf1f9"/><rect x="826.06" y="359.74" width="353.54" height="363.76" fill="#a8cae3"/><rect x="855.52" y="359.74" width="324.08" height="363.76" fill="#6aa2d1"/><rect x="884.98" y="359.74" width="294.62" height="363.76" fill="#8ab8da"/><rect x="914.45" y="359.74" width="265.15" height="363.76" fill="#8ab8da"/><rect x="943.91" y="359.74" width="235.69" height="363.76" fill="#8ab8da"/><rect x="973.37" y="359.74" width="206.23" height="363.76" fill="#a8cae3"/><rect x="1002.83" y="359.74" width="176.77" height="363.76" fill="#c3d9ec"/><rect x="1032.29" y="359.74" width="147.31" height="363.76" fill="#a8cae3"/><rect x="1061.75" y="359.74" width="117.85" height="363.76" fill="#d8e5f2"/><rect x="1091.22" y="359.74" width="88.38" height="363.76" fill="#3378bb"/><rect x="1120.68" y="359.74" width="58.92" height="363.76" fill="#8ab8da"/><rect x="1150.14" y="359.74" width="29.46" height="363.76" fill="#ffffff"/>
<rect x="796.60" y="368.08" width="383.00" height="355.42" fill="#a8cae3"/><rect x="826.06" y="368.08" width="353.54" height="355.42" fill="#c3d9ec"/><rect x="855.52" y="368.08" width="324.08" height="355.42" fill="#c3d9ec"/><rect x="884.98" y="368.08" width="294.62" height="355.42" fill="#d8e5f2"/><rect x="914.45" y="368.08" width="265.15" height="355.42" fill="#8ab8da"/><rect x="943.91" y="368.08" width="235.69" height="355.42" fill="#2063ad"/><rect x="973.37" y="368.08" width="206.23" height="355.42" fill="#ffffff"/><rect x="1002.83" y="368.08" width="176.77" height="355.42" fill="#8ab8da"/><rect x="1032.29" y="368.08" width="147.31" height="355.42" fill="#d8e5f2"/><rect x="1061.75" y="368.08" width="117.85" height="355.42" fill="#a8cae3"/><rect x="1091.22" y="368.08" width="88.38" height="355.42" fill="#8ab8da"/><rect x="1120.68" y="368.08" width="58.92" height="355.42" fill="#8ab8da"/><rect x="1150.14" y="368.08" width="29.46" height="355.42" fill="#8ab8da"/>
<rect x="796.60" y="376.38" width="383.00" height="347.12" fill="#a8cae3"/><rect x="826.06" y="376.38" width="353.54" height="347.12" fill="#ebf1f9"/><rect x="855.52" y="376.38" width="324.08" height="347.12" fill="#8ab8da"/><rect x="884.98" y="376.38" width="294.62" height="347.12" fill="#8ab8da"/><rect x="914.45" y="376.38" width="265.15" height="347.12" fill="#3378bb"/><rect x="943.91" y="376.38" width="235.69" height="347.12" fill="#8ab8da"/><rect x="973.37" y="376.38" width="206.23" height="347.12" fill="#8ab8da"/><rect x="1002.83" y="376.38" width="176.77" height="347.12" fill="#ebf1f9"/><rect x="1032.29" y="376.38" width="147.31" height="347.12" fill="#8ab8da"/><rect x="1061.75" y="376.38" width="117.85" height="347.12" fill="#ebf1f9"/><rect x="1091.22" y="376.38" width="88.38" height="347.12" fill="#3378bb"/><rect x="1120.68" y="376.38" width="58.92" height="347.12" fill="#6aa2d1"/><rect x="1150.14" y="376.38" width="29.46" height="347.12" fill="#6aa2d1"/>
<rect x="796.60" y="384.64" width="383.00" height="338.86" fill="#ebf1f9"/><rect x="826.06" y="384.64" width="353.54" height="338.86" fill="#a8cae3"/><rect x="855.52" y="384.64" width="324.08" height="338.86" fill="#c3d9ec"/><rect x="884.98" y="384.64" width="294.62" height="338.86" fill="#6aa2d1"/><rect x="914.45" y="384.64" width="265.15" height="338.86" fill="#6aa2d1"/><rect x="943.91" y="384.64" width="235.69" height="338.86" fill="#2063ad"/><rect x="973.37" y="384.64" width="206.23" height="338.86" fill="#a8cae3"/><rect x="1002.83" y="384.64" width="176.77" height="338.86" fill="#c3d9ec"/><rect x="1032.29" y="384.64" width="147.31" height="338.86" fill="#c3d9ec"/><rect x="1061.75" y="384.64" width="117.85" height="338.86" fill="#a8cae3"/><rect x="1091.22" y="384.64" width="88.38" height="338.86" fill="#8ab8da"/><rect x="1120.68" y="384.64" width="58.92" height="338.86" fill="#6aa2d1"/><rect x="1150.14" y="384.64" width="29.46" height="338.86" fill="#a8cae3"/>
<rect x="796.60" y="392.90" width="383.00" height="330.60" fill="#c3d9ec"/><rect x="826.06" y="392.90" width="353.54" height="330.60" fill="#a8cae3"/><rect x="855.52" y="392.90" width="324.08" height="330.60" fill="#8ab8da"/><rect x="884.98" y="392.90" width="294.62" height="330.60" fill="#d8e5f2"/><rect x="914.45" y="392.90" width="265.15" height="330.60" fill="#6aa2d1"/><rect x="943.91" y="392.90" width="235.69" height="330.60" fill="#2063ad"/><rect x="973.37" y="392.90" width="206.23" height="330.60" fill="#d8e5f2"/><rect x="1002.83" y="392.90" width="176.77" height="330.60" fill="#c3d9ec"/><rect x="1032.29" y="392.90" width="147.31" height="330.60" fill="#ebf1f9"/><rect x="1061.75" y="392.90" width="117.85" height="330.60" fill="#a8cae3"/><rect x="1091.22" y="392.90" width="88.38" height="330.60" fill="#3378bb"/><rect x="1120.68" y="392.90" width="58.92" height="330.60" fill="#d8e5f2"/><rect x="1150.14" y="392.90" width="29.46" height="330.60" fill="#4e8ec7"/>
<rect x="796.60" y="401.17" width="383.00" height="322.33" fill="#c3d9ec"/><rect x="826.06" y="401.17" width="353.54" height="322.33" fill="#a8cae3"/><rect x="855.52" y="401.17" width="324.08" height="322.33" fill="#8ab8da"/><rect x="884.98" y="401.17" width="294.62" height="322.33" fill="#a8cae3"/><rect x="914.45" y="401.17" width="265.15" height="322.33" fill="#3378bb"/><rect x="943.91" y="401.17" width="235.69" height="322.33" fill="#3378bb"/><rect x="973.37" y="401.17" width="206.23" height="322.33" fill="#ffffff"/><rect x="1002.83" y="401.17" width="176.77" height="322.33" fill="#c3d9ec"/><rect x="1032.29" y="401.17" width="147.31" height="322.33" fill="#c3d9ec"/><rect x="1061.75" y="401.17" width="117.85" height="322.33" fill="#a8cae3"/><rect x="1091.22" y="401.17" width="88.38" height="322.33" fill="#4e8ec7"/><rect x="1120.68" y="401.17" width="58.92" height="322.33" fill="#8ab8da"/><rect x="1150.14" y="401.17" width="29.46" height="322.33" fill="#c3d9ec"/>
<rect x="796.60" y="409.43" width="383.00" height="314.07" fill="#ebf1f9"/><rect x="826.06" y="409.43" width="353.54" height="314.07" fill="#ebf1f9"/><rect x="855.52" y="409.43" width="324.08" height="314.07" fill="#a8cae3"/><rect x="884.98" y="409.43" width="294.62" height="314.07" fill="#6aa2d1"/><rect x="914.45" y="409.43" width="265.15" height="314.07" fill="#4e8ec7"/><rect x="943.91" y="409.43" width="235.69" height="314.07" fill="#8ab8da"/><rect x="973.37" y="409.43" width="206.23" height="314.07" fill="#8ab8da"/><rect x="1002.83" y="409.43" width="176.77" height="314.07" fill="#a8cae3"/><rect x="1032.29" y="409.43" width="147.31" height="314.07" fill="#ebf1f9"/><rect x="1061.75" y="409.43" width="117.85" height="314.07" fill="#8ab8da"/><rect x="1091.22" y="409.43" width="88.38" height="314.07" fill="#6aa2d1"/><rect x="1120.68" y="409.43" width="58.92" height="314.07" fill="#2063ad"/><rect x="1150.14" y="409.43" width="29.46" height="314.07" fill="#6aa2d1"/>
<rect x="796.60" y="417.69" width="383.00" height="305.81" fill="#a8cae3"/><rect x="826.06" y="417.69" width="353.54" height="305.81" fill="#ebf1f9"/><rect x="855.52" y="417.69" width="324.08" height="305.81" fill="#6aa2d1"/><rect x="884.98" y="417.69" width="294.62" height="305.81" fill="#c3d9ec"/><rect x="914.45" y="417.69" width="265.15" height="305.81" fill="#8ab8da"/><rect x="943.91" y="417.69" width="235.69" height="305.81" fill="#4e8ec7"/><rect x="973.37" y="417.69" width="206.23" height="305.81" fill="#c3d9ec"/><rect x="1002.83" y="417.69" width="176.77" height="305.81" fill="#a8cae3"/><rect x="1032.29" y="417.69" width="147.31" height="305.81" fill="#c3d9ec"/><rect x="1061.75" y="417.69" width="117.85" height="305.81" fill="#c3d9ec"/><rect x="1091.22" y="417.69" width="88.38" height="305.81" fill="#2063ad"/><rect x="1120.68" y="417.69" width="58.92" height="305.81" fill="#8ab8da"/><rect x="1150.14" y="417.69" width="29.46" height="305.81" fill="#c3d9ec"/>
<rect x="796.60" y="425.95" width="383.00" height="297.55" fill="#a8cae3"/><rect x="826.06" y="425.95" width="353.54" height="297.55" fill="#a8cae3"/><rect x="855.52" y="425.95" width="324.08" height="297.55" fill="#d8e5f2"/><rect x="884.98" y="425.95" width="294.62" height="297.55" fill="#d8e5f2"/><rect x="914.45" y="425.95" width="265.15" height="297.55" fill="#4e8ec7"/><rect x="943.91" y="425.95" width="235.69" height="297.55" fill="#2063ad"/><rect x="973.37" y="425.95" width="206.23" height="297.55" fill="#a8cae3"/><rect x="1002.83" y="425.95" width="176.77" height="297.55" fill="#d8e5f2"/><rect x="1032.29" y="425.95" width="147.31" height="297.55" fill="#ebf1f9"/><rect x="1061.75" y="425.95" width="117.85" height="297.55" fill="#a8cae3"/><rect x="1091.22" y="425.95" width="88.38" height="297.55" fill="#8ab8da"/><rect x="1120.68" y="425.95" width="58.92" height="297.55" fill="#2063ad"/><rect x="1150.14" y="425.95" width="29.46" height="297.55" fill="#c3d9ec"/>
<rect x="796.60" y="434.21" width="383.00" height="289.29" fill="#a8cae3"/><rect x="826.06" y="434.21" width="353.54" height="289.29" fill="#ebf1f9"/><rect x="855.52" y="434.21" width="324.08" height="289.29" fill="#a8cae3"/><rect x="884.98" y="434.21" width="294.62" height="289.29" fill="#6aa2d1"/><rect x="914.45" y="434.21" width="265.15" height="289.29" fill="#8ab8da"/><rect x="943.91" y="434.21" width="235.69" height="289.29" fill="#8ab8da"/><rect x="973.37" y="434.21" width="206.23" height="289.29" fill="#a8cae3"/><rect x="1002.83" y="434.21" width="176.77" height="289.29" fill="#c3d9ec"/><rect x="1032.29" y="434.21" width="147.31" height="289.29" fill="#ebf1f9"/><rect x="1061.75" y="434.21" width="117.85" height="289.29" fill="#a8cae3"/><rect x="1091.22" y="434.21" width="88.38" height="289.29" fill="#6aa2d1"/><rect x="1120.68" y="434.21" width="58.92" height="289.29" fill="#a8cae3"/><rect x="1150.14" y="434.21" width="29.46" height="289.29" fill="#8ab8da"/>
<rect x="796.60" y="442.47" width="383.00" height="281.03" fill="#a8cae3"/><rect x="826.06" y="442.47" width="353.54" height="281.03" fill="#a8cae3"/><rect x="855.52" y="442.47" width="324.08" height="281.03" fill="#c3d9ec"/><rect x="884.98" y="442.47" width="294.62" height="281.03" fill="#c3d9ec"/><rect x="914.45" y="442.47" width="265.15" height="281.03" fill="#4e8ec7"/><rect x="943.91" y="442.47" width="235.69" height="281.03" fill="#4e8ec7"/><rect x="973.37" y="442.47" width="206.23" height="281.03" fill="#ebf1f9"/><rect x="1002.83" y="442.47" width="176.77" height="281.03" fill="#a8cae3"/><rect x="1032.29" y="442.47" width="147.31" height="281.03" fill="#a8cae3"/><rect x="1061.75" y="442.47" width="117.85" height="281.03" fill="#8ab8da"/><rect x="1091.22" y="442.47" width="88.38" height="281.03" fill="#4e8ec7"/><rect x="1120.68" y="442.47" width="58.92" height="281.03" fill="#6aa2d1"/><rect x="1150.14" y="442.47" width="29.46" height="281.03" fill="#8ab8da"/>
<rect x="796.60" y="450.73" width="383.00" height="272.77" fill="#a8cae3"/><rect x="826.06" y="450.73" width="353.54" height="272.77" fill="#ebf1f9"/><rect x="855.52" y="450.73" width="324.08" height="272.77" fill="#8ab8da"/><rect x="884.98" y="450.73" width="294.62" height="272.77" fill="#d8e5f2"/><rect x="914.45" y="450.73" width="265.15" height="272.77" fill="#3378bb"/><rect x="943.91" y="450.73" width="235.69" height="272.77" fill="#8ab8da"/><rect x="973.37" y="450.73" width="206.23" height="272.77" fill="#8ab8da"/><rect x="1002.83" y="450.73" width="176.77" height="272.77" fill="#ebf1f9"/><rect x="1032.29" y="450.73" width="147.31" height="272.77" fill="#ebf1f9"/><rect x="1061.75" y="450.73" width="117.85" height="272.77" fill="#a8cae3"/><rect x="1091.22" y="450.73" width="88.38" height="272.77" fill="#8ab8da"/><rect x="1120.68" y="450.73" width="58.92" height="272.77" fill="#3378bb"/><rect x="1150.14" y="450.73" width="29.46" height="272.77" fill="#6aa2d1"/>
<rect x="796.60" y="459.00" width="383.00" height="264.50" fill="#ebf1f9"/><rect x="826.06" y="459.00" width="353.54" height="264.50" fill="#8ab8da"/><rect x="855.52" y="459.00" width="324.08" height="264.50" fill="#d8e5f2"/><rect x="884.98" y="459.00" width="294.62" height="264.50" fill="#6aa2d1"/><rect x="914.45" y="459.00" width="265.15" height="264.50" fill="#6aa2d1"/><rect x="943.91" y="459.00" width="235.69" height="264.50" fill="#4e8ec7"/><rect x="973.37" y="459.00" width="206.23" height="264.50" fill="#a8cae3"/><rect x="1002.83" y="459.00" width="176.77" height="264.50" fill="#ebf1f9"/><rect x="1032.29" y="459.00" width="147.31" height="264.50" fill="#a8cae3"/><rect x="1061.75" y="459.00" width="117.85" height="264.50" fill="#c3d9ec"/><rect x="1091.22" y="459.00" width="88.38" height="264.50" fill="#3378bb"/><rect x="1120.68" y="459.00" width="58.92" height="264.50" fill="#8ab8da"/><rect x="1150.14" y="459.00" width="29.46" height="264.50" fill="#3378bb"/>
<rect x="796.60" y="467.26" width="383.00" height="256.24" fill="#c3d9ec"/><rect x="826.06" y="467.26" width="353.54" height="256.24" fill="#c3d9ec"/><rect x="855.52" y="467.26" width="324.08" height="256.24" fill="#8ab8da"/><rect x="884.98" y="467.26" width="294.62" height="256.24" fill="#8ab8da"/><rect x="914.45" y="467.26" width="265.15" height="256.24" fill="#c3d9ec"/><rect x="943.91" y="467.26" width="235.69" height="256.24" fill="#3378bb"/><rect x="973.37" y="467.26" width="206.23" height="256.24" fill="#ffffff"/><rect x="1002.83" y="467.26" width="176.77" height="256.24" fill="#8ab8da"/><rect x="1032.29" y="467.26" width="147.31" height="256.24" fill="#c3d9ec"/><rect x="1061.75" y="467.26" width="117.85" height="256.24" fill="#6aa2d1"/><rect x="1091.22" y="467.26" width="88.38" height="256.24" fill="#8ab8da"/><rect x="1120.68" y="467.26" width="58.92" height="256.24" fill="#d8e5f2"/><rect x="1150.14" y="467.26" width="29.46" height="256.24" fill="#a8cae3"/>
<rect x="796.60" y="475.52" width="383.00" height="247.98" fill="#ebf1f9"/><rect x="826.06" y="475.52" width="353.54" height="247.98" fill="#ebf1f9"/><rect x="855.52" y="475.52" width="324.08" height="247.98" fill="#6aa2d1"/><rect x="884.98" y="475.52" width="294.62" height="247.98" fill="#8ab8da"/><rect x="914.45" y="475.52" width="265.15" height="247.98" fill="#6aa2d1"/><rect x="943.91" y="475.52" width="235.69" height="247.98" fill="#2063ad"/><rect x="973.37" y="475.52" width="206.23" height="247.98" fill="#ffffff"/><rect x="1002.83" y="475.52" width="176.77" height="247.98" fill="#8ab8da"/><rect x="1032.29" y="475.52" width="147.31" height="247.98" fill="#c3d9ec"/><rect x="1061.75" y="475.52" width="117.85" height="247.98" fill="#a8cae3"/><rect x="1091.22" y="475.52" width="88.38" height="247.98" fill="#8ab8da"/><rect x="1120.68" y="475.52" width="58.92" height="247.98" fill="#3378bb"/><rect x="1150.14" y="475.52" width="29.46" height="247.98" fill="#a8cae3"/>
<rect x="796.60" y="483.79" width="383.00" height="239.71" fill="#a8cae3"/><rect x="826.06" y="483.79" width="353.54" height="239.71" fill="#8ab8da"/><rect x="855.52" y="483.79" width="324.08" height="239.71" fill="#d8e5f2"/><rect x="884.98" y="483.79" width="294.62" height="239.71" fill="#ebf1f9"/><rect x="914.45" y="483.79" width="265.15" height="239.71" fill="#6aa2d1"/><rect x="943.91" y="483.79" width="235.69" height="239.71" fill="#4e8ec7"/><rect x="973.37" y="483.79" width="206.23" height="239.71" fill="#ffffff"/><rect x="1002.83" y="483.79" width="176.77" height="239.71" fill="#c3d9ec"/><rect x="1032.29" y="483.79" width="147.31" height="239.71" fill="#d8e5f2"/><rect x="1061.75" y="483.79" width="117.85" height="239.71" fill="#ebf1f9"/><rect x="1091.22" y="483.79" width="88.38" height="239.71" fill="#3378bb"/><rect x="1120.68" y="483.79" width="58.92" height="239.71" fill="#d8e5f2"/><rect x="1150.14" y="483.79" width="29.46" height="239.71" fill="#8ab8da"/>
<rect x="796.60" y="492.06" width="383.00" height="231.44" fill="#a8cae3"/><rect x="826.06" y="492.06" width="353.54" height="231.44" fill="#ebf1f9"/><rect x="855.52" y="492.06" width="324.08" height="231.44" fill="#a8cae3"/><rect x="884.98" y="492.06" width="294.62" height="231.44" fill="#3378bb"/><rect x="914.45" y="492.06" width="265.15" height="231.44" fill="#8ab8da"/><rect x="943.91" y="492.06" width="235.69" height="231.44" fill="#c3d9ec"/><rect x="973.37" y="492.06" width="206.23" height="231.44" fill="#a8cae3"/><rect x="1002.83" y="492.06" width="176.77" height="231.44" fill="#d8e5f2"/><rect x="1032.29" y="492.06" width="147.31" height="231.44" fill="#ebf1f9"/><rect x="1061.75" y="492.06" width="117.85" height="231.44" fill="#a8cae3"/><rect x="1091.22" y="492.06" width="88.38" height="231.44" fill="#8ab8da"/><rect x="1120.68" y="492.06" width="58.92" height="231.44" fill="#6aa2d1"/><rect x="1150.14" y="492.06" width="29.46" height="231.44" fill="#4e8ec7"/>
<rect x="796.60" y="500.33" width="383.00" height="223.17" fill="#ebf1f9"/><rect x="826.06" y="500.33" width="353.54" height="223.17" fill="#6aa2d1"/><rect x="855.52" y="500.33" width="324.08" height="223.17" fill="#a8cae3"/><rect x="884.98" y="500.33" width="294.62" height="223.17" fill="#c3d9ec"/><rect x="914.45" y="500.33" width="265.15" height="223.17" fill="#3378bb"/><rect x="943.91" y="500.33" width="235.69" height="223.17" fill="#6aa2d1"/><rect x="973.37" y="500.33" width="206.23" height="223.17" fill="#a8cae3"/><rect x="1002.83" y="500.33" width="176.77" height="223.17" fill="#ebf1f9"/><rect x="1032.29" y="500.33" width="147.31" height="223.17" fill="#a8cae3"/><rect x="1061.75" y="500.33" width="117.85" height="223.17" fill="#d8e5f2"/><rect x="1091.22" y="500.33" width="88.38" height="223.17" fill="#2063ad"/><rect x="1120.68" y="500.33" width="58.92" height="223.17" fill="#8ab8da"/><rect x="1150.14" y="500.33" width="29.46" height="223.17" fill="#a8cae3"/>
<rect x="796.60" y="508.60" width="383.00" height="214.90" fill="#c3d9ec"/><rect x="826.06" y="508.60" width="353.54" height="214.90" fill="#a8cae3"/><rect x="855.52" y="508.60" width="324.08" height="214.90" fill="#a8cae3"/><rect x="884.98" y="508.60" width="294.62" height="214.90" fill="#4e8ec7"/><rect x="914.45" y="508.60" width="265.15" height="214.90" fill="#6aa2d1"/><rect x="943.91" y="508.60" width="235.69" height="214.90" fill="#3378bb"/><rect x="973.37" y="508.60" width="206.23" height="214.90" fill="#ebf1f9"/><rect x="1002.83" y="508.60" width="176.77" height="214.90" fill="#a8cae3"/><rect x="1032.29" y="508.60" width="147.31" height="214.90" fill="#c3d9ec"/><rect x="1061.75" y="508.60" width="117.85" height="214.90" fill="#ebf1f9"/><rect x="1091.22" y="508.60" width="88.38" height="214.90" fill="#8ab8da"/><rect x="1120.68" y="508.60" width="58.92" height="214.90" fill="#3378bb"/><rect x="1150.14" y="508.60" width="29.46" height="214.90" fill="#c3d9ec"/>
<rect x="796.60" y="516.88" width="383.00" height="206.62" fill="#a8cae3"/><rect x="826.06" y="516.88" width="353.54" height="206.62" fill="#ebf1f9"/><rect x="855.52" y="516.88" width="324.08" height="206.62" fill="#3378bb"/><rect x="884.98" y="516.88" width="294.62" height="206.62" fill="#8ab8da"/><rect x="914.45" y="516.88" width="265.15" height="206.62" fill="#3378bb"/><rect x="943.91" y="516.88" width="235.69" height="206.62" fill="#a8cae3"/><rect x="973.37" y="516.88" width="206.23" height="206.62" fill="#a8cae3"/><rect x="1002.83" y="516.88" width="176.77" height="206.62" fill="#ebf1f9"/><rect x="1032.29" y="516.88" width="147.31" height="206.62" fill="#a8cae3"/><rect x="1061.75" y="516.88" width="117.85" height="206.62" fill="#a8cae3"/><rect x="1091.22" y="516.88" width="88.38" height="206.62" fill="#4e8ec7"/><rect x="1120.68" y="516.88" width="58.92" height="206.62" fill="#8ab8da"/><rect x="1150.14" y="516.88" width="29.46" height="206.62" fill="#6aa2d1"/>
<rect x="796.60" y="525.15" width="383.00" height="198.35" fill="#ebf1f9"/><rect x="826.06" y="525.15" width="353.54" height="198.35" fill="#8ab8da"/><rect x="855.52" y="525.15" width="324.08" height="198.35" fill="#a8cae3"/><rect x="884.98" y="525.15" width="294.62" height="198.35" fill="#d8e5f2"/><rect x="914.45" y="525.15" width="265.15" height="198.35" fill="#3378bb"/><rect x="943.91" y="525.15" width="235.69" height="198.35" fill="#4e8ec7"/><rect x="973.37" y="525.15" width="206.23" height="198.35" fill="#8ab8da"/><rect x="1002.83" y="525.15" width="176.77" height="198.35" fill="#ebf1f9"/><rect x="1032.29" y="525.15" width="147.31" height="198.35" fill="#ebf1f9"/><rect x="1061.75" y="525.15" width="117.85" height="198.35" fill="#a8cae3"/><rect x="1091.22" y="525.15" width="88.38" height="198.35" fill="#8ab8da"/><rect x="1120.68" y="525.15" width="58.92" height="198.35" fill="#a8cae3"/><rect x="1150.14" y="525.15" width="29.46" height="198.35" fill="#a8cae3"/>
<rect x="796.60" y="533.42" width="383.00" height="190.08" fill="#c3d9ec"/><rect x="826.06" y="533.42" width="353.54" height="190.08" fill="#ebf1f9"/><rect x="855.52" y="533.42" width="324.08" height="190.08" fill="#8ab8da"/><rect x="884.98" y="533.42" width="294.62" height="190.08" fill="#3378bb"/><rect x="914.45" y="533.42" width="265.15" height="190.08" fill="#8ab8da"/><rect x="943.91" y="533.42" width="235.69" height="190.08" fill="#8ab8da"/><rect x="973.37" y="533.42" width="206.23" height="190.08" fill="#d8e5f2"/><rect x="1002.83" y="533.42" width="176.77" height="190.08" fill="#a8cae3"/><rect x="1032.29" y="533.42" width="147.31" height="190.08" fill="#ebf1f9"/><rect x="1061.75" y="533.42" width="117.85" height="190.08" fill="#c3d9ec"/><rect x="1091.22" y="533.42" width="88.38" height="190.08" fill="#2063ad"/><rect x="1120.68" y="533.42" width="58.92" height="190.08" fill="#6aa2d1"/><rect x="1150.14" y="533.42" width="29.46" height="190.08" fill="#4e8ec7"/>
<rect x="796.60" y="541.69" width="383.00" height="181.81" fill="#ebf1f9"/><rect x="826.06" y="541.69" width="353.54" height="181.81" fill="#8ab8da"/><rect x="855.52" y="541.69" width="324.08" height="181.81" fill="#a8cae3"/><rect x="884.98" y="541.69" width="294.62" height="181.81" fill="#ebf1f9"/><rect x="914.45" y="541.69" width="265.15" height="181.81" fill="#3378bb"/><rect x="943.91" y="541.69" width="235.69" height="181.81" fill="#a8cae3"/><rect x="973.37" y="541.69" width="206.23" height="181.81" fill="#d8e5f2"/><rect x="1002.83" y="541.69" width="176.77" height="181.81" fill="#ebf1f9"/><rect x="1032.29" y="541.69" width="147.31" height="181.81" fill="#a8cae3"/><rect x="1061.75" y="541.69" width="117.85" height="181.81" fill="#a8cae3"/><rect x="1091.22" y="541.69" width="88.38" height="181.81" fill="#3378bb"/><rect x="1120.68" y="541.69" width="58.92" height="181.81" fill="#a8cae3"/><rect x="1150.14" y="541.69" width="29.46" height="181.81" fill="#ffffff"/>
<rect x="796.60" y="549.97" width="383.00" height="173.53" fill="#c3d9ec"/><rect x="826.06" y="549.97" width="353.54" height="173.53" fill="#a8cae3"/><rect x="855.52" y="549.97" width="324.08" height="173.53" fill="#6aa2d1"/><rect x="884.98" y="549.97" width="294.62" height="173.53" fill="#a8cae3"/><rect x="914.45" y="549.97" width="265.15" height="173.53" fill="#6aa2d1"/><rect x="943.91" y="549.97" width="235.69" height="173.53" fill="#3378bb"/><rect x="973.37" y="549.97" width="206.23" height="173.53" fill="#d8e5f2"/><rect x="1002.83" y="549.97" width="176.77" height="173.53" fill="#a8cae3"/><rect x="1032.29" y="549.97" width="147.31" height="173.53" fill="#a8cae3"/><rect x="1061.75" y="549.97" width="117.85" height="173.53" fill="#a8cae3"/><rect x="1091.22" y="549.97" width="88.38" height="173.53" fill="#8ab8da"/><rect x="1120.68" y="549.97" width="58.92" height="173.53" fill="#4e8ec7"/><rect x="1150.14" y="549.97" width="29.46" height="173.53" fill="#6aa2d1"/>
<rect x="796.60" y="558.24" width="383.00" height="165.26" fill="#a8cae3"/><rect x="826.06" y="558.24" width="353.54" height="165.26" fill="#ebf1f9"/><rect x="855.52" y="558.24" width="324.08" height="165.26" fill="#6aa2d1"/><rect x="884.98" y="558.24" width="294.62" height="165.26" fill="#4e8ec7"/><rect x="914.45" y="558.24" width="265.15" height="165.26" fill="#4e8ec7"/><rect x="943.91" y="558.24" width="235.69" height="165.26" fill="#a8cae3"/><rect x="973.37" y="558.24" width="206.23" height="165.26" fill="#a8cae3"/><rect x="1002.83" y="558.24" width="176.77" height="165.26" fill="#c3d9ec"/><rect x="1032.29" y="558.24" width="147.31" height="165.26" fill="#ebf1f9"/><rect x="1061.75" y="558.24" width="117.85" height="165.26" fill="#a8cae3"/><rect x="1091.22" y="558.24" width="88.38" height="165.26" fill="#3378bb"/><rect x="1120.68" y="558.24" width="58.92" height="165.26" fill="#4e8ec7"/><rect x="1150.14" y="558.24" width="29.46" height="165.26" fill="#a8cae3"/>
<rect x="796.60" y="566.51" width="383.00" height="156.99" fill="#c3d9ec"/><rect x="826.06" y="566.51" width="353.54" height="156.99" fill="#c3d9ec"/><rect x="855.52" y="566.51" width="324.08" height="156.99" fill="#a8cae3"/><rect x="884.98" y="566.51" width="294.62" height="156.99" fill="#a8cae3"/><rect x="914.45" y="566.51" width="265.15" height="156.99" fill="#3378bb"/><rect x="943.91" y="566.51" width="235.69" height="156.99" fill="#2063ad"/><rect x="973.37" y="566.51" width="206.23" height="156.99" fill="#ebf1f9"/><rect x="1002.83" y="566.51" width="176.77" height="156.99" fill="#c3d9ec"/><rect x="1032.29" y="566.51" width="147.31" height="156.99" fill="#a8cae3"/><rect x="1061.75" y="566.51" width="117.85" height="156.99" fill="#a8cae3"/><rect x="1091.22" y="566.51" width="88.38" height="156.99" fill="#3378bb"/><rect x="1120.68" y="566.51" width="58.92" height="156.99" fill="#8ab8da"/><rect x="1150.14" y="566.51" width="29.46" height="156.99" fill="#c3d9ec"/>
<rect x="796.60" y="574.78" width="383.00" height="148.72" fill="#8ab8da"/><rect x="826.06" y="574.78" width="353.54" height="148.72" fill="#ebf1f9"/><rect x="855.52" y="574.78" width="324.08" height="148.72" fill="#3378bb"/><rect x="884.98" y="574.78" width="294.62" height="148.72" fill="#d8e5f2"/><rect x="914.45" y="574.78" width="265.15" height="148.72" fill="#8ab8da"/><rect x="943.91" y="574.78" width="235.69" height="148.72" fill="#4e8ec7"/><rect x="973.37" y="574.78" width="206.23" height="148.72" fill="#d8e5f2"/><rect x="1002.83" y="574.78" width="176.77" height="148.72" fill="#a8cae3"/><rect x="1032.29" y="574.78" width="147.31" height="148.72" fill="#ebf1f9"/><rect x="1061.75" y="574.78" width="117.85" height="148.72" fill="#a8cae3"/><rect x="1091.22" y="574.78" width="88.38" height="148.72" fill="#8ab8da"/><rect x="1120.68" y="574.78" width="58.92" height="148.72" fill="#3378bb"/><rect x="1150.14" y="574.78" width="29.46" height="148.72" fill="#8ab8da"/>
<rect x="796.60" y="583.06" width="383.00" height="140.44" fill="#c3d9ec"/><rect x="826.06" y="583.06" width="353.54" height="140.44" fill="#c3d9ec"/><rect x="855.52" y="583.06" width="324.08" height="140.44" fill="#a8cae3"/><rect x="884.98" y="583.06" width="294.62" height="140.44" fill="#8ab8da"/><rect x="914.45" y="583.06" width="265.15" height="140.44" fill="#4e8ec7"/><rect x="943.91" y="583.06" width="235.69" height="140.44" fill="#4e8ec7"/><rect x="973.37" y="583.06" width="206.23" height="140.44" fill="#ebf1f9"/><rect x="1002.83" y="583.06" width="176.77" height="140.44" fill="#a8cae3"/><rect x="1032.29" y="583.06" width="147.31" height="140.44" fill="#c3d9ec"/><rect x="1061.75" y="583.06" width="117.85" height="140.44" fill="#ebf1f9"/><rect x="1091.22" y="583.06" width="88.38" height="140.44" fill="#4e8ec7"/><rect x="1120.68" y="583.06" width="58.92" height="140.44" fill="#8ab8da"/><rect x="1150.14" y="583.06" width="29.46" height="140.44" fill="#8ab8da"/>
<rect x="796.60" y="591.33" width="383.00" height="132.17" fill="#c3d9ec"/><rect x="826.06" y="591.33" width="353.54" height="132.17" fill="#8ab8da"/><rect x="855.52" y="591.33" width="324.08" height="132.17" fill="#a8cae3"/><rect x="884.98" y="591.33" width="294.62" height="132.17" fill="#c3d9ec"/><rect x="914.45" y="591.33" width="265.15" height="132.17" fill="#8ab8da"/><rect x="943.91" y="591.33" width="235.69" height="132.17" fill="#2063ad"/><rect x="973.37" y="591.33" width="206.23" height="132.17" fill="#ebf1f9"/><rect x="1002.83" y="591.33" width="176.77" height="132.17" fill="#ebf1f9"/><rect x="1032.29" y="591.33" width="147.31" height="132.17" fill="#a8cae3"/><rect x="1061.75" y="591.33" width="117.85" height="132.17" fill="#a8cae3"/><rect x="1091.22" y="591.33" width="88.38" height="132.17" fill="#8ab8da"/><rect x="1120.68" y="591.33" width="58.92" height="132.17" fill="#4e8ec7"/><rect x="1150.14" y="591.33" width="29.46" height="132.17" fill="#a8cae3"/>
<rect x="796.60" y="599.60" width="383.00" height="123.90" fill="#ebf1f9"/><rect x="826.06" y="599.60" width="353.54" height="123.90" fill="#c3d9ec"/><rect x="855.52" y="599.60" width="324.08" height="123.90" fill="#8ab8da"/><rect x="884.98" y="599.60" width="294.62" height="123.90" fill="#8ab8da"/><rect x="914.45" y="599.60" width="265.15" height="123.90" fill="#4e8ec7"/><rect x="943.91" y="599.60" width="235.69" height="123.90" fill="#4e8ec7"/><rect x="973.37" y="599.60" width="206.23" height="123.90" fill="#c3d9ec"/><rect x="1002.83" y="599.60" width="176.77" height="123.90" fill="#c3d9ec"/><rect x="1032.29" y="599.60" width="147.31" height="123.90" fill="#ebf1f9"/><rect x="1061.75" y="599.60" width="117.85" height="123.90" fill="#ebf1f9"/><rect x="1091.22" y="599.60" width="88.38" height="123.90" fill="#3378bb"/><rect x="1120.68" y="599.60" width="58.92" height="123.90" fill="#8ab8da"/><rect x="1150.14" y="599.60" width="29.46" height="123.90" fill="#8ab8da"/>
<rect x="796.60" y="607.87" width="383.00" height="115.63" fill="#c3d9ec"/><rect x="826.06" y="607.87" width="353.54" height="115.63" fill="#ebf1f9"/><rect x="855.52" y="607.87" width="324.08" height="115.63" fill="#a8cae3"/><rect x="884.98" y="607.87" width="294.62" height="115.63" fill="#ebf1f9"/><rect x="914.45" y="607.87" width="265.15" height="115.63" fill="#8ab8da"/><rect x="943.91" y="607.87" width="235.69" height="115.63" fill="#2063ad"/><rect x="973.37" y="607.87" width="206.23" height="115.63" fill="#ebf1f9"/><rect x="1002.83" y="607.87" width="176.77" height="115.63" fill="#c3d9ec"/><rect x="1032.29" y="607.87" width="147.31" height="115.63" fill="#c3d9ec"/><rect x="1061.75" y="607.87" width="117.85" height="115.63" fill="#a8cae3"/><rect x="1091.22" y="607.87" width="88.38" height="115.63" fill="#8ab8da"/><rect x="1120.68" y="607.87" width="58.92" height="115.63" fill="#4e8ec7"/><rect x="1150.14" y="607.87" width="29.46" height="115.63" fill="#a8cae3"/>
<rect x="796.60" y="616.14" width="383.00" height="107.36" fill="#c3d9ec"/><rect x="826.06" y="616.14" width="353.54" height="107.36" fill="#c3d9ec"/><rect x="855.52" y="616.14" width="324.08" height="107.36" fill="#ebf1f9"/><rect x="884.98" y="616.14" width="294.62" height="107.36" fill="#a8cae3"/><rect x="914.45" y="616.14" width="265.15" height="107.36" fill="#4e8ec7"/><rect x="943.91" y="616.14" width="235.69" height="107.36" fill="#8ab8da"/><rect x="973.37" y="616.14" width="206.23" height="107.36" fill="#a8cae3"/><rect x="1002.83" y="616.14" width="176.77" height="107.36" fill="#c3d9ec"/><rect x="1032.29" y="616.14" width="147.31" height="107.36" fill="#ebf1f9"/><rect x="1061.75" y="616.14" width="117.85" height="107.36" fill="#a8cae3"/><rect x="1091.22" y="616.14" width="88.38" height="107.36" fill="#4e8ec7"/><rect x="1120.68" y="616.14" width="58.92" height="107.36" fill="#4e8ec7"/><rect x="1150.14" y="616.14" width="29.46" height="107.36" fill="#c3d9ec"/>
<rect x="796.60" y="624.42" width="383.00" height="99.08" fill="#ebf1f9"/><rect x="826.06" y="624.42" width="353.54" height="99.08" fill="#c3d9ec"/><rect x="855.52" y="624.42" width="324.08" height="99.08" fill="#a8cae3"/><rect x="884.98" y="624.42" width="294.62" height="99.08" fill="#a8cae3"/><rect x="914.45" y="624.42" width="265.15" height="99.08" fill="#a8cae3"/><rect x="943.91" y="624.42" width="235.69" height="99.08" fill="#2063ad"/><rect x="973.37" y="624.42" width="206.23" height="99.08" fill="#c3d9ec"/><rect x="1002.83" y="624.42" width="176.77" height="99.08" fill="#a8cae3"/><rect x="1032.29" y="624.42" width="147.31" height="99.08" fill="#c3d9ec"/><rect x="1061.75" y="624.42" width="117.85" height="99.08" fill="#ebf1f9"/><rect x="1091.22" y="624.42" width="88.38" height="99.08" fill="#3378bb"/><rect x="1120.68" y="624.42" width="58.92" height="99.08" fill="#8ab8da"/><rect x="1150.14" y="624.42" width="29.46" height="99.08" fill="#4e8ec7"/>
<rect x="796.60" y="632.69" width="383.00" height="90.81" fill="#ebf1f9"/><rect x="826.06" y="632.69" width="353.54" height="90.81" fill="#ebf1f9"/><rect x="855.52" y="632.69" width="324.08" height="90.81" fill="#6aa2d1"/><rect x="884.98" y="632.69" width="294.62" height="90.81" fill="#a8cae3"/><rect x="914.45" y="632.69" width="265.15" height="90.81" fill="#4e8ec7"/><rect x="943.91" y="632.69" width="235.69" height="90.81" fill="#3378bb"/><rect x="973.37" y="632.69" width="206.23" height="90.81" fill="#ebf1f9"/><rect x="1002.83" y="632.69" width="176.77" height="90.81" fill="#a8cae3"/><rect x="1032.29" y="632.69" width="147.31" height="90.81" fill="#c3d9ec"/><rect x="1061.75" y="632.69" width="117.85" height="90.81" fill="#a8cae3"/><rect x="1091.22" y="632.69" width="88.38" height="90.81" fill="#2063ad"/><rect x="1120.68" y="632.69" width="58.92" height="90.81" fill="#6aa2d1"/><rect x="1150.14" y="632.69" width="29.46" height="90.81" fill="#a8cae3"/>
<rect x="796.60" y="640.96" width="383.00" height="82.54" fill="#c3d9ec"/><rect x="826.06" y="640.96" width="353.54" height="82.54" fill="#8ab8da"/><rect x="855.52" y="640.96" width="324.08" height="82.54" fill="#a8cae3"/><rect x="884.98" y="640.96" width="294.62" height="82.54" fill="#8ab8da"/><rect x="914.45" y="640.96" width="265.15" height="82.54" fill="#6aa2d1"/><rect x="943.91" y="640.96" width="235.69" height="82.54" fill="#4e8ec7"/><rect x="973.37" y="640.96" width="206.23" height="82.54" fill="#c3d9ec"/><rect x="1002.83" y="640.96" width="176.77" height="82.54" fill="#c3d9ec"/><rect x="1032.29" y="640.96" width="147.31" height="82.54" fill="#ebf1f9"/><rect x="1061.75" y="640.96" width="117.85" height="82.54" fill="#ebf1f9"/><rect x="1091.22" y="640.96" width="88.38" height="82.54" fill="#4e8ec7"/><rect x="1120.68" y="640.96" width="58.92" height="82.54" fill="#c3d9ec"/><rect x="1150.14" y="640.96" width="29.46" height="82.54" fill="#4e8ec7"/>
<rect x="796.60" y="649.23" width="383.00" height="74.27" fill="#ebf1f9"/><rect x="826.06" y="649.23" width="353.54" height="74.27" fill="#ebf1f9"/><rect x="855.52" y="649.23" width="324.08" height="74.27" fill="#a8cae3"/><rect x="884.98" y="649.23" width="294.62" height="74.27" fill="#4e8ec7"/><rect x="914.45" y="649.23" width="265.15" height="74.27" fill="#6aa2d1"/><rect x="943.91" y="649.23" width="235.69" height="74.27" fill="#2063ad"/><rect x="973.37" y="649.23" width="206.23" height="74.27" fill="#a8cae3"/><rect x="1002.83" y="649.23" width="176.77" height="74.27" fill="#c3d9ec"/><rect x="1032.29" y="649.23" width="147.31" height="74.27" fill="#a8cae3"/><rect x="1061.75" y="649.23" width="117.85" height="74.27" fill="#a8cae3"/><rect x="1091.22" y="649.23" width="88.38" height="74.27" fill="#8ab8da"/><rect x="1120.68" y="649.23" width="58.92" height="74.27" fill="#3378bb"/><rect x="1150.14" y="649.23" width="29.46" height="74.27" fill="#4e8ec7"/>
<rect x="796.60" y="657.51" width="383.00" height="65.99" fill="#ebf1f9"/><rect x="826.06" y="657.51" width="353.54" height="65.99" fill="#8ab8da"/><rect x="855.52" y="657.51" width="324.08" height="65.99" fill="#c3d9ec"/><rect x="884.98" y="657.51" width="294.62" height="65.99" fill="#c3d9ec"/><rect x="914.45" y="657.51" width="265.15" height="65.99" fill="#2063ad"/><rect x="943.91" y="657.51" width="235.69" height="65.99" fill="#8ab8da"/><rect x="973.37" y="657.51" width="206.23" height="65.99" fill="#ebf1f9"/><rect x="1002.83" y="657.51" width="176.77" height="65.99" fill="#a8cae3"/><rect x="1032.29" y="657.51" width="147.31" height="65.99" fill="#a8cae3"/><rect x="1061.75" y="657.51" width="117.85" height="65.99" fill="#c3d9ec"/><rect x="1091.22" y="657.51" width="88.38" height="65.99" fill="#3378bb"/><rect x="1120.68" y="657.51" width="58.92" height="65.99" fill="#4e8ec7"/><rect x="1150.14" y="657.51" width="29.46" height="65.99" fill="#6aa2d1"/>
<rect x="796.60" y="665.78" width="383.00" height="57.72" fill="#ebf1f9"/><rect x="826.06" y="665.78" width="353.54" height="57.72" fill="#c3d9ec"/><rect x="855.52" y="665.78" width="324.08" height="57.72" fill="#8ab8da"/><rect x="884.98" y="665.78" width="294.62" height="57.72" fill="#4e8ec7"/><rect x="914.45" y="665.78" width="265.15" height="57.72" fill="#8ab8da"/><rect x="943.91" y="665.78" width="235.69" height="57.72" fill="#8ab8da"/><rect x="973.37" y="665.78" width="206.23" height="57.72" fill="#a8cae3"/><rect x="1002.83" y="665.78" width="176.77" height="57.72" fill="#d8e5f2"/><rect x="1032.29" y="665.78" width="147.31" height="57.72" fill="#a8cae3"/><rect x="1061.75" y="665.78" width="117.85" height="57.72" fill="#c3d9ec"/><rect x="1091.22" y="665.78" width="88.38" height="57.72" fill="#3378bb"/><rect x="1120.68" y="665.78" width="58.92" height="57.72" fill="#4e8ec7"/><rect x="1150.14" y="665.78" width="29.46" height="57.72" fill="#a8cae3"/>
<rect x="796.60" y="674.05" width="383.00" height="49.45" fill="#c3d9ec"/><rect x="826.06" y="674.05" width="353.54" height="49.45" fill="#ebf1f9"/><rect x="855.52" y="674.05" width="324.08" height="49.45" fill="#d8e5f2"/><rect x="884.98" y="674.05" width="294.62" height="49.45" fill="#c3d9ec"/><rect x="914.45" y="674.05" width="265.15" height="49.45" fill="#2063ad"/><rect x="943.91" y="674.05" width="235.69" height="49.45" fill="#6aa2d1"/><rect x="973.37" y="674.05" width="206.23" height="49.45" fill="#ffffff"/><rect x="1002.83" y="674.05" width="176.77" height="49.45" fill="#a8cae3"/><rect x="1032.29" y="674.05" width="147.31" height="49.45" fill="#c3d9ec"/><rect x="1061.75" y="674.05" width="117.85" height="49.45" fill="#a8cae3"/><rect x="1091.22" y="674.05" width="88.38" height="49.45" fill="#2063ad"/><rect x="1120.68" y="674.05" width="58.92" height="49.45" fill="#d8e5f2"/><rect x="1150.14" y="674.05" width="29.46" height="49.45" fill="#ffffff"/>
<rect x="796.60" y="682.32" width="383.00" height="41.18" fill="#a8cae3"/><rect x="826.06" y="682.32" width="353.54" height="41.18" fill="#ebf1f9"/><rect x="855.52" y="682.32" width="324.08" height="41.18" fill="#a8cae3"/><rect x="884.98" y="682.32" width="294.62" height="41.18" fill="#8ab8da"/><rect x="914.45" y="682.32" width="265.15" height="41.18" fill="#a8cae3"/><rect x="943.91" y="682.32" width="235.69" height="41.18" fill="#2063ad"/><rect x="973.37" y="682.32" width="206.23" height="41.18" fill="#ebf1f9"/><rect x="1002.83" y="682.32" width="176.77" height="41.18" fill="#ebf1f9"/><rect x="1032.29" y="682.32" width="147.31" height="41.18" fill="#a8cae3"/><rect x="1061.75" y="682.32" width="117.85" height="41.18" fill="#c3d9ec"/><rect x="1091.22" y="682.32" width="88.38" height="41.18" fill="#3378bb"/><rect x="1120.68" y="682.32" width="58.92" height="41.18" fill="#8ab8da"/><rect x="1150.14" y="682.32" width="29.46" height="41.18" fill="#8ab8da"/>
<rect x="796.60" y="690.60" width="383.00" height="32.90" fill="#ebf1f9"/><rect x="826.06" y="690.60" width="353.54" height="32.90" fill="#a8cae3"/><rect x="855.52" y="690.60" width="324.08" height="32.90" fill="#8ab8da"/><rect x="884.98" y="690.60" width="294.62" height="32.90" fill="#d8e5f2"/><rect x="914.45" y="690.60" width="265.15" height="32.90" fill="#3378bb"/><rect x="943.91" y="690.60" width="235.69" height="32.90" fill="#a8cae3"/><rect x="973.37" y="690.60" width="206.23" height="32.90" fill="#a8cae3"/><rect x="1002.83" y="690.60" width="176.77" height="32.90" fill="#ebf1f9"/><rect x="1032.29" y="690.60" width="147.31" height="32.90" fill="#a8cae3"/><rect x="1061.75" y="690.60" width="117.85" height="32.90" fill="#a8cae3"/><rect x="1091.22" y="690.60" width="88.38" height="32.90" fill="#4e8ec7"/><rect x="1120.68" y="690.60" width="58.92" height="32.90" fill="#4e8ec7"/><rect x="1150.14" y="690.60" width="29.46" height="32.90" fill="#3378bb"/>
<rect x="796.60" y="698.87" width="383.00" height="24.63" fill="#ebf1f9"/><rect x="826.06" y="698.87" width="353.54" height="24.63" fill="#a8cae3"/><rect x="855.52" y="698.87" width="324.08" height="24.63" fill="#6aa2d1"/><rect x="884.98" y="698.87" width="294.62" height="24.63" fill="#8ab8da"/><rect x="914.45" y="698.87" width="265.15" height="24.63" fill="#4e8ec7"/><rect x="943.91" y="698.87" width="235.69" height="24.63" fill="#3378bb"/><rect x="973.37" y="698.87" width="206.23" height="24.63" fill="#ebf1f9"/><rect x="1002.83" y="698.87" width="176.77" height="24.63" fill="#a8cae3"/><rect x="1032.29" y="698.87" width="147.31" height="24.63" fill="#a8cae3"/><rect x="1061.75" y="698.87" width="117.85" height="24.63" fill="#ebf1f9"/><rect x="1091.22" y="698.87" width="88.38" height="24.63" fill="#3378bb"/><rect x="1120.68" y="698.87" width="58.92" height="24.63" fill="#6aa2d1"/><rect x="1150.14" y="698.87" width="29.46" height="24.63" fill="#a8cae3"/>
<rect x="796.60" y="707.14" width="383.00" height="16.36" fill="#a8cae3"/><rect x="826.06" y="707.14" width="353.54" height="16.36" fill="#c3d9ec"/><rect x="855.52" y="707.14" width="324.08" height="16.36" fill="#8ab8da"/><rect x="884.98" y="707.14" width="294.62" height="16.36" fill="#d8e5f2"/><rect x="914.45" y="707.14" width="265.15" height="16.36" fill="#a8cae3"/><rect x="943.91" y="707.14" width="235.69" height="16.36" fill="#3378bb"/><rect x="973.37" y="707.14" width="206.23" height="16.36" fill="#d8e5f2"/><rect x="1002.83" y="707.14" width="176.77" height="16.36" fill="#a8cae3"/><rect x="1032.29" y="707.14" width="147.31" height="16.36" fill="#ebf1f9"/><rect x="1061.75" y="707.14" width="117.85" height="16.36" fill="#8ab8da"/><rect x="1091.22" y="707.14" width="88.38" height="16.36" fill="#8ab8da"/><rect x="1120.68" y="707.14" width="58.92" height="16.36" fill="#c3d9ec"/><rect x="1150.14" y="707.14" width="29.46" height="16.36" fill="#c3d9ec"/>
<rect x="796.60" y="715.41" width="383.00" height="8.09" fill="#a8cae3"/><rect x="826.06" y="715.41" width="353.54" height="8.09" fill="#ebf1f9"/><rect x="855.52" y="715.41" width="324.08" height="8.09" fill="#8ab8da"/><rect x="884.98" y="715.41" width="294.62" height="8.09" fill="#6aa2d1"/><rect x="914.45" y="715.41" width="265.15" height="8.09" fill="#4e8ec7"/><rect x="943.91" y="715.41" width="235.69" height="8.09" fill="#2063ad"/><rect x="973.37" y="715.41" width="206.23" height="8.09" fill="#ebf1f9"/><rect x="1002.83" y="715.41" width="176.77" height="8.09" fill="#c3d9ec"/><rect x="1032.29" y="715.41" width="147.31" height="8.09" fill="#c3d9ec"/><rect x="1061.75" y="715.41" width="117.85" height="8.09" fill="#ebf1f9"/><rect x="1091.22" y="715.41" width="88.38" height="8.09" fill="#2063ad"/><rect x="1120.68" y="715.41" width="58.92" height="8.09" fill="#8ab8da"/><rect x="1150.14" y="715.41" width="29.46" height="8.09" fill="#8ab8da"/>
</g>
<rect x="796.2" y="62.8" width="384.1" height="660.7" fill="none" stroke="#161616" stroke-width="1.7"/>
<g stroke="#161616" stroke-width="1.6">
<line x1="788.2" y1="66.90" x2="796.2" y2="66.90"/><line x1="788.2" y1="75.48" x2="796.2" y2="75.48"/><line x1="788.2" y1="84.06" x2="796.2" y2="84.06"/><line x1="788.2" y1="92.65" x2="796.2" y2="92.65"/><line x1="788.2" y1="101.23" x2="796.2" y2="101.23"/><line x1="788.2" y1="109.81" x2="796.2" y2="109.81"/><line x1="788.2" y1="118.39" x2="796.2" y2="118.39"/><line x1="788.2" y1="126.97" x2="796.2" y2="126.97"/><line x1="788.2" y1="135.55" x2="796.2" y2="135.55"/><line x1="788.2" y1="144.14" x2="796.2" y2="144.14"/><line x1="788.2" y1="152.72" x2="796.2" y2="152.72"/><line x1="788.2" y1="161.30" x2="796.2" y2="161.30"/><line x1="788.2" y1="169.78" x2="796.2" y2="169.78"/><line x1="788.2" y1="178.27" x2="796.2" y2="178.27"/><line x1="788.2" y1="186.75" x2="796.2" y2="186.75"/><line x1="788.2" y1="195.24" x2="796.2" y2="195.24"/><line x1="788.2" y1="203.72" x2="796.2" y2="203.72"/><line x1="788.2" y1="212.21" x2="796.2" y2="212.21"/><line x1="788.2" y1="220.69" x2="796.2" y2="220.69"/><line x1="788.2" y1="229.18" x2="796.2" y2="229.18"/><line x1="788.2" y1="237.66" x2="796.2" y2="237.66"/><line x1="788.2" y1="246.15" x2="796.2" y2="246.15"/><line x1="788.2" y1="254.63" x2="796.2" y2="254.63"/><line x1="788.2" y1="263.12" x2="796.2" y2="263.12"/><line x1="788.2" y1="271.60" x2="796.2" y2="271.60"/><line x1="788.2" y1="279.94" x2="796.2" y2="279.94"/><line x1="788.2" y1="288.28" x2="796.2" y2="288.28"/><line x1="788.2" y1="296.62" x2="796.2" y2="296.62"/><line x1="788.2" y1="304.97" x2="796.2" y2="304.97"/><line x1="788.2" y1="313.31" x2="796.2" y2="313.31"/><line x1="788.2" y1="321.65" x2="796.2" y2="321.65"/><line x1="788.2" y1="329.99" x2="796.2" y2="329.99"/><line x1="788.2" y1="338.33" x2="796.2" y2="338.33"/><line x1="788.2" y1="346.68" x2="796.2" y2="346.68"/><line x1="788.2" y1="355.02" x2="796.2" y2="355.02"/><line x1="788.2" y1="363.36" x2="796.2" y2="363.36"/><line x1="788.2" y1="371.70" x2="796.2" y2="371.70"/><line x1="788.2" y1="379.96" x2="796.2" y2="379.96"/><line x1="788.2" y1="388.22" x2="796.2" y2="388.22"/><line x1="788.2" y1="396.48" x2="796.2" y2="396.48"/><line x1="788.2" y1="404.75" x2="796.2" y2="404.75"/><line x1="788.2" y1="413.01" x2="796.2" y2="413.01"/><line x1="788.2" y1="421.27" x2="796.2" y2="421.27"/><line x1="788.2" y1="429.53" x2="796.2" y2="429.53"/><line x1="788.2" y1="437.79" x2="796.2" y2="437.79"/><line x1="788.2" y1="446.05" x2="796.2" y2="446.05"/><line x1="788.2" y1="454.32" x2="796.2" y2="454.32"/><line x1="788.2" y1="462.58" x2="796.2" y2="462.58"/><line x1="788.2" y1="470.84" x2="796.2" y2="470.84"/><line x1="788.2" y1="479.10" x2="796.2" y2="479.10"/><line x1="788.2" y1="487.37" x2="796.2" y2="487.37"/><line x1="788.2" y1="495.64" x2="796.2" y2="495.64"/><line x1="788.2" y1="503.92" x2="796.2" y2="503.92"/><line x1="788.2" y1="512.19" x2="796.2" y2="512.19"/><line x1="788.2" y1="520.46" x2="796.2" y2="520.46"/><line x1="788.2" y1="528.73" x2="796.2" y2="528.73"/><line x1="788.2" y1="537.01" x2="796.2" y2="537.01"/><line x1="788.2" y1="545.28" x2="796.2" y2="545.28"/><line x1="788.2" y1="553.55" x2="796.2" y2="553.55"/><line x1="788.2" y1="561.82" x2="796.2" y2="561.82"/><line x1="788.2" y1="570.10" x2="796.2" y2="570.10"/><line x1="788.2" y1="578.37" x2="796.2" y2="578.37"/><line x1="788.2" y1="586.64" x2="796.2" y2="586.64"/><line x1="788.2" y1="594.91" x2="796.2" y2="594.91"/><line x1="788.2" y1="603.19" x2="796.2" y2="603.19"/><line x1="788.2" y1="611.46" x2="796.2" y2="611.46"/><line x1="788.2" y1="619.73" x2="796.2" y2="619.73"/><line x1="788.2" y1="628.00" x2="796.2" y2="628.00"/><line x1="788.2" y1="636.28" x2="796.2" y2="636.28"/><line x1="788.2" y1="644.55" x2="796.2" y2="644.55"/><line x1="788.2" y1="652.82" x2="796.2" y2="652.82"/><line x1="788.2" y1="661.09" x2="796.2" y2="661.09"/><line x1="788.2" y1="669.37" x2="796.2" y2="669.37"/><line x1="788.2" y1="677.64" x2="796.2" y2="677.64"/><line x1="788.2" y1="685.91" x2="796.2" y2="685.91"/><line x1="788.2" y1="694.18" x2="796.2" y2="694.18"/><line x1="788.2" y1="702.46" x2="796.2" y2="702.46"/><line x1="788.2" y1="710.73" x2="796.2" y2="710.73"/><line x1="788.2" y1="719.00" x2="796.2" y2="719.00"/>
<line x1="806.40" y1="723.5" x2="806.40" y2="732.5"/><line x1="816.30" y1="723.5" x2="816.30" y2="732.5"/><line x1="835.86" y1="723.5" x2="835.86" y2="732.5"/><line x1="845.76" y1="723.5" x2="845.76" y2="732.5"/><line x1="865.32" y1="723.5" x2="865.32" y2="732.5"/><line x1="875.22" y1="723.5" x2="875.22" y2="732.5"/><line x1="894.78" y1="723.5" x2="894.78" y2="732.5"/><line x1="904.68" y1="723.5" x2="904.68" y2="732.5"/><line x1="924.25" y1="723.5" x2="924.25" y2="732.5"/><line x1="934.15" y1="723.5" x2="934.15" y2="732.5"/><line x1="953.71" y1="723.5" x2="953.71" y2="732.5"/><line x1="963.61" y1="723.5" x2="963.61" y2="732.5"/><line x1="983.17" y1="723.5" x2="983.17" y2="732.5"/><line x1="993.07" y1="723.5" x2="993.07" y2="732.5"/><line x1="1012.63" y1="723.5" x2="1012.63" y2="732.5"/><line x1="1022.53" y1="723.5" x2="1022.53" y2="732.5"/><line x1="1042.09" y1="723.5" x2="1042.09" y2="732.5"/><line x1="1051.99" y1="723.5" x2="1051.99" y2="732.5"/><line x1="1071.55" y1="723.5" x2="1071.55" y2="732.5"/><line x1="1081.45" y1="723.5" x2="1081.45" y2="732.5"/><line x1="1101.02" y1="723.5" x2="1101.02" y2="732.5"/><line x1="1110.92" y1="723.5" x2="1110.92" y2="732.5"/><line x1="1130.48" y1="723.5" x2="1130.48" y2="732.5"/><line x1="1140.38" y1="723.5" x2="1140.38" y2="732.5"/><line x1="1159.94" y1="723.5" x2="1159.94" y2="732.5"/><line x1="1169.84" y1="723.5" x2="1169.84" y2="732.5"/>
</g>
<text class="t" text-anchor="middle" transform="translate(771.5 372.7) rotate(-90)">Proteins</text>
<text class="t" text-anchor="middle" x="988" y="762.9">Samples</text>
<text class="t" x="1197.3" y="344.1">DIA quantitative</text>
<text class="t" x="1197.3" y="371.6">matrix:</text>
<text class="t" x="1197.3" y="399.1">proteins × samples,</text>
<text class="t" x="1197.3" y="426.6">low missingness</text>
</svg>
</body></html>
